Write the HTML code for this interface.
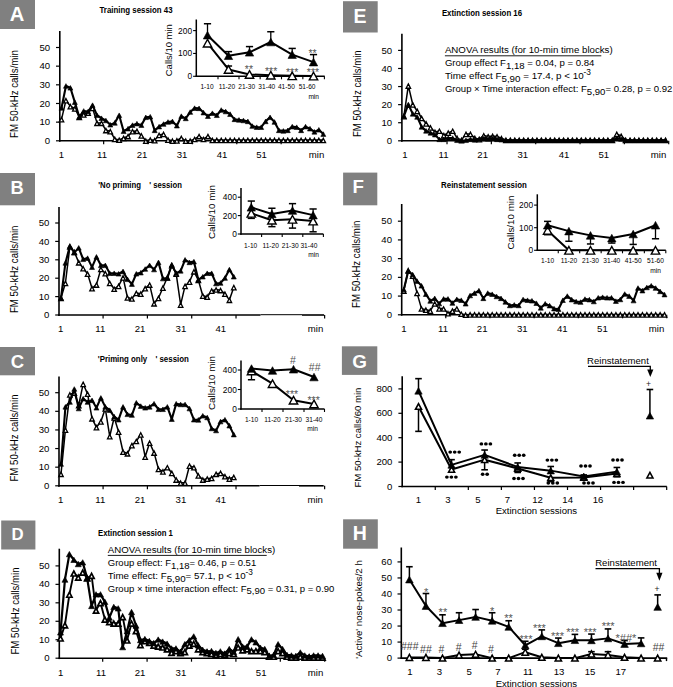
<!DOCTYPE html>
<html><head><meta charset="utf-8"><style>
html,body{margin:0;padding:0;background:#fff;}
body{width:673px;height:687px;overflow:hidden;font-family:"Liberation Sans", sans-serif;}
svg{display:block;}
</style></head><body>
<svg width="673" height="687" viewBox="0 0 673 687" font-family='"Liberation Sans", sans-serif'>
<rect width="673" height="687" fill="#fff"/>
<rect x="0" y="0" width="35" height="29" fill="#808080"/>
<text x="17" y="20.8" font-size="20.2" text-anchor="middle" font-weight="bold" fill="#fff">A</text>
<rect x="0" y="173" width="35" height="32.3" fill="#808080"/>
<text x="17.2" y="193.9" font-size="18.3" text-anchor="middle" font-weight="bold" fill="#fff">B</text>
<rect x="0" y="347" width="35" height="28.3" fill="#808080"/>
<text x="17.4" y="367.7" font-size="18.5" text-anchor="middle" font-weight="bold" fill="#fff">C</text>
<rect x="1.2" y="520.5" width="34.2" height="29" fill="#808080"/>
<text x="17.5" y="540.1" font-size="16.8" text-anchor="middle" font-weight="bold" fill="#fff">D</text>
<rect x="343" y="1.2" width="34.7" height="31.3" fill="#808080"/>
<text x="360.1" y="23" font-size="19.5" text-anchor="middle" font-weight="bold" fill="#fff">E</text>
<rect x="343.1" y="172.6" width="34.2" height="32.7" fill="#808080"/>
<text x="358.2" y="192.7" font-size="18.7" text-anchor="middle" font-weight="bold" fill="#fff">F</text>
<rect x="341.9" y="346.3" width="35.4" height="28.6" fill="#808080"/>
<text x="359.7" y="367.7" font-size="18.9" text-anchor="middle" font-weight="bold" fill="#fff">G</text>
<rect x="343.1" y="519.3" width="34.7" height="29.4" fill="#808080"/>
<text x="359.8" y="540.1" font-size="19.5" text-anchor="middle" font-weight="bold" fill="#fff">H</text>
<text x="99.5" y="13.1" font-size="9" font-weight="bold" textLength="73" lengthAdjust="spacingAndGlyphs">Training session 43</text>
<text x="98.2" y="188.4" font-size="9" font-weight="bold" textLength="42.8" lengthAdjust="spacingAndGlyphs">'No priming</text>
<text x="149.2" y="188.4" font-size="9" font-weight="bold" textLength="32.7" lengthAdjust="spacingAndGlyphs">' session</text>
<text x="97.8" y="362.3" font-size="9" font-weight="bold" textLength="49.4" lengthAdjust="spacingAndGlyphs">'Priming only</text>
<text x="155.4" y="362.3" font-size="9" font-weight="bold" textLength="33.5" lengthAdjust="spacingAndGlyphs">' session</text>
<text x="98" y="536" font-size="8.8" font-weight="bold" textLength="74.9" lengthAdjust="spacingAndGlyphs">Extinction session 1</text>
<text x="441.9" y="16" font-size="8.8" font-weight="bold" textLength="80.2" lengthAdjust="spacingAndGlyphs">Extinction session 16</text>
<text x="441.1" y="188.1" font-size="8.8" font-weight="bold" textLength="85.7" lengthAdjust="spacingAndGlyphs">Reinstatement session</text>
<line x1="59.8" y1="31" x2="59.8" y2="141.7" stroke="#000" stroke-width="1.6"/>
<line x1="59" y1="140.8" x2="325" y2="140.8" stroke="#000" stroke-width="1.6"/>
<line x1="56" y1="140.8" x2="59.8" y2="140.8" stroke="#000" stroke-width="1.2"/>
<text x="50.1" y="143.9" font-size="9.6" text-anchor="end">0</text>
<line x1="56" y1="122.14" x2="59.8" y2="122.14" stroke="#000" stroke-width="1.2"/>
<text x="50.1" y="125.24" font-size="9.6" text-anchor="end">10</text>
<line x1="56" y1="103.48" x2="59.8" y2="103.48" stroke="#000" stroke-width="1.2"/>
<text x="50.1" y="106.58" font-size="9.6" text-anchor="end">20</text>
<line x1="56" y1="84.82" x2="59.8" y2="84.82" stroke="#000" stroke-width="1.2"/>
<text x="50.1" y="87.92" font-size="9.6" text-anchor="end">30</text>
<line x1="56" y1="66.16" x2="59.8" y2="66.16" stroke="#000" stroke-width="1.2"/>
<text x="50.1" y="69.26" font-size="9.6" text-anchor="end">40</text>
<line x1="56" y1="47.5" x2="59.8" y2="47.5" stroke="#000" stroke-width="1.2"/>
<text x="50.1" y="50.6" font-size="9.6" text-anchor="end">50</text>
<line x1="103.65" y1="140.8" x2="103.65" y2="144.3" stroke="#000" stroke-width="1.2"/>
<line x1="148.03" y1="140.8" x2="148.03" y2="144.3" stroke="#000" stroke-width="1.2"/>
<line x1="192.4" y1="140.8" x2="192.4" y2="144.3" stroke="#000" stroke-width="1.2"/>
<line x1="236.77" y1="140.8" x2="236.77" y2="144.3" stroke="#000" stroke-width="1.2"/>
<line x1="281.15" y1="140.8" x2="281.15" y2="144.3" stroke="#000" stroke-width="1.2"/>
<text x="61.5" y="158" font-size="9.6" text-anchor="middle">1</text>
<text x="102" y="158" font-size="9.6" text-anchor="middle">11</text>
<text x="142" y="158" font-size="9.6" text-anchor="middle">21</text>
<text x="182" y="158" font-size="9.6" text-anchor="middle">31</text>
<text x="222" y="158" font-size="9.6" text-anchor="middle">41</text>
<text x="261.6" y="158" font-size="9.6" text-anchor="middle">51</text>
<text x="316.5" y="158" font-size="9.6" text-anchor="middle">min</text>
<text transform="translate(14.5,94) rotate(-90)" x="0" y="0" font-size="10.4" text-anchor="middle" dominant-baseline="central" textLength="88" lengthAdjust="spacingAndGlyphs">FM 50-kHz calls/min</text>
<polyline points="61.5,119.34 65.94,100.31 70.37,106.28 74.81,108.52 79.25,116.92 83.69,114.49 88.12,112.81 92.56,107.96 97,122.89 101.44,122.89 105.87,130.16 110.31,131.28 114.75,138.93 119.18,139.87 123.62,138 128.06,136.14 132.5,131.28 136.93,130.91 141.37,135.58 145.81,140.8 150.25,139.68 154.68,140.24 159.12,135.02 163.56,134.08 167.99,139.68 172.43,140.8 176.87,140.43 181.31,138 185.74,140.8 190.18,140.8 194.62,139.12 199.06,136.14 203.49,139.12 207.93,136.14 212.37,140.05 216.81,140.05 221.24,140.05 225.68,140.05 230.12,140.05 234.55,140.05 238.99,140.05 243.43,140.05 247.87,140.05 252.3,140.05 256.74,140.05 261.18,140.05 265.62,140.05 270.05,140.05 274.49,140.05 278.93,140.05 283.36,140.05 287.8,140.05 292.24,140.05 296.68,140.05 301.11,140.05 305.55,140.05 309.99,140.05 314.43,140.05 318.86,140.05 323.3,140.05" fill="none" stroke="#000" stroke-width="1.5" stroke-linejoin="round"/>
<path d="M61.5,117.54L63.75,121.94L59.25,121.94ZM65.94,98.51L68.19,102.91L63.69,102.91ZM70.37,104.48L72.62,108.88L68.12,108.88ZM74.81,106.72L77.06,111.12L72.56,111.12ZM79.25,115.12L81.5,119.52L77,119.52ZM83.69,112.69L85.94,117.09L81.44,117.09ZM88.12,111.01L90.37,115.41L85.87,115.41ZM92.56,106.16L94.81,110.56L90.31,110.56ZM97,121.09L99.25,125.49L94.75,125.49ZM101.44,121.09L103.69,125.49L99.19,125.49ZM105.87,128.36L108.12,132.76L103.62,132.76ZM110.31,129.48L112.56,133.88L108.06,133.88ZM114.75,137.13L117,141.53L112.5,141.53ZM119.18,138.07L121.43,142.47L116.93,142.47ZM123.62,136.2L125.87,140.6L121.37,140.6ZM128.06,134.34L130.31,138.74L125.81,138.74ZM132.5,129.48L134.75,133.88L130.25,133.88ZM136.93,129.11L139.18,133.51L134.68,133.51ZM141.37,133.78L143.62,138.18L139.12,138.18ZM145.81,139L148.06,143.4L143.56,143.4ZM150.25,137.88L152.5,142.28L148,142.28ZM154.68,138.44L156.93,142.84L152.43,142.84ZM159.12,133.22L161.37,137.62L156.87,137.62ZM163.56,132.28L165.81,136.68L161.31,136.68ZM167.99,137.88L170.24,142.28L165.74,142.28ZM172.43,139L174.68,143.4L170.18,143.4ZM176.87,138.63L179.12,143.03L174.62,143.03ZM181.31,136.2L183.56,140.6L179.06,140.6ZM185.74,139L187.99,143.4L183.49,143.4ZM190.18,139L192.43,143.4L187.93,143.4ZM194.62,137.32L196.87,141.72L192.37,141.72ZM199.06,134.34L201.31,138.74L196.81,138.74ZM203.49,137.32L205.74,141.72L201.24,141.72ZM207.93,134.34L210.18,138.74L205.68,138.74ZM212.37,138.25L214.62,142.65L210.12,142.65ZM216.81,138.25L219.06,142.65L214.56,142.65ZM221.24,138.25L223.49,142.65L218.99,142.65ZM225.68,138.25L227.93,142.65L223.43,142.65ZM230.12,138.25L232.37,142.65L227.87,142.65ZM234.55,138.25L236.8,142.65L232.3,142.65ZM238.99,138.25L241.24,142.65L236.74,142.65ZM243.43,138.25L245.68,142.65L241.18,142.65ZM247.87,138.25L250.12,142.65L245.62,142.65ZM252.3,138.25L254.55,142.65L250.05,142.65ZM256.74,138.25L258.99,142.65L254.49,142.65ZM261.18,138.25L263.43,142.65L258.93,142.65ZM265.62,138.25L267.87,142.65L263.37,142.65ZM270.05,138.25L272.3,142.65L267.8,142.65ZM274.49,138.25L276.74,142.65L272.24,142.65ZM278.93,138.25L281.18,142.65L276.68,142.65ZM283.36,138.25L285.61,142.65L281.11,142.65ZM287.8,138.25L290.05,142.65L285.55,142.65ZM292.24,138.25L294.49,142.65L289.99,142.65ZM296.68,138.25L298.93,142.65L294.43,142.65ZM301.11,138.25L303.36,142.65L298.86,142.65ZM305.55,138.25L307.8,142.65L303.3,142.65ZM309.99,138.25L312.24,142.65L307.74,142.65ZM314.43,138.25L316.68,142.65L312.18,142.65ZM318.86,138.25L321.11,142.65L316.61,142.65ZM323.3,138.25L325.55,142.65L321.05,142.65Z" fill="#fff" stroke="#000" stroke-width="1.3" stroke-linejoin="miter"/>
<polyline points="61.5,107.96 65.94,85.94 70.37,87.81 74.81,102.17 79.25,116.92 83.69,110.94 88.12,111.5 92.56,105.16 97,115.24 101.44,118.22 105.87,120.46 110.31,124.75 114.75,122.89 119.18,115.24 123.62,131.28 128.06,128.67 132.5,125.13 136.93,123.63 141.37,125.13 145.81,117.29 150.25,116.73 154.68,130.35 159.12,126.62 163.56,124.01 167.99,121.95 172.43,121.39 176.87,125.69 181.31,116.17 185.74,118.41 190.18,112.06 194.62,108.15 199.06,108.33 203.49,112.62 207.93,116.17 212.37,113.18 216.81,115.24 221.24,110.01 225.68,111.5 230.12,114.12 234.55,119.34 238.99,119.9 243.43,120.46 247.87,121.39 252.3,126.06 256.74,127.18 261.18,127.18 265.62,121.39 270.05,117.29 274.49,121.95 278.93,130.35 283.36,130.91 287.8,130.35 292.24,126.62 296.68,127.18 301.11,130.35 305.55,126.62 309.99,128.67 314.43,131.84 318.86,129.79 323.3,134.08" fill="none" stroke="#000" stroke-width="2.1" stroke-linejoin="round"/>
<path d="M61.5,105.66L64,110.26L59,110.26ZM65.94,83.64L68.44,88.24L63.44,88.24ZM70.37,85.51L72.87,90.11L67.87,90.11ZM74.81,99.87L77.31,104.47L72.31,104.47ZM79.25,114.62L81.75,119.22L76.75,119.22ZM83.69,108.64L86.19,113.24L81.19,113.24ZM88.12,109.2L90.62,113.8L85.62,113.8ZM92.56,102.86L95.06,107.46L90.06,107.46ZM97,112.94L99.5,117.54L94.5,117.54ZM101.44,115.92L103.94,120.52L98.94,120.52ZM105.87,118.16L108.37,122.76L103.37,122.76ZM110.31,122.45L112.81,127.05L107.81,127.05ZM114.75,120.59L117.25,125.19L112.25,125.19ZM119.18,112.94L121.68,117.54L116.68,117.54ZM123.62,128.98L126.12,133.58L121.12,133.58ZM128.06,126.37L130.56,130.97L125.56,130.97ZM132.5,122.83L135,127.43L130,127.43ZM136.93,121.33L139.43,125.93L134.43,125.93ZM141.37,122.83L143.87,127.43L138.87,127.43ZM145.81,114.99L148.31,119.59L143.31,119.59ZM150.25,114.43L152.75,119.03L147.75,119.03ZM154.68,128.05L157.18,132.65L152.18,132.65ZM159.12,124.32L161.62,128.92L156.62,128.92ZM163.56,121.71L166.06,126.31L161.06,126.31ZM167.99,119.65L170.49,124.25L165.49,124.25ZM172.43,119.09L174.93,123.69L169.93,123.69ZM176.87,123.39L179.37,127.99L174.37,127.99ZM181.31,113.87L183.81,118.47L178.81,118.47ZM185.74,116.11L188.24,120.71L183.24,120.71ZM190.18,109.76L192.68,114.36L187.68,114.36ZM194.62,105.85L197.12,110.45L192.12,110.45ZM199.06,106.03L201.56,110.63L196.56,110.63ZM203.49,110.32L205.99,114.92L200.99,114.92ZM207.93,113.87L210.43,118.47L205.43,118.47ZM212.37,110.88L214.87,115.48L209.87,115.48ZM216.81,112.94L219.31,117.54L214.31,117.54ZM221.24,107.71L223.74,112.31L218.74,112.31ZM225.68,109.2L228.18,113.8L223.18,113.8ZM230.12,111.82L232.62,116.42L227.62,116.42ZM234.55,117.04L237.05,121.64L232.05,121.64ZM238.99,117.6L241.49,122.2L236.49,122.2ZM243.43,118.16L245.93,122.76L240.93,122.76ZM247.87,119.09L250.37,123.69L245.37,123.69ZM252.3,123.76L254.8,128.36L249.8,128.36ZM256.74,124.88L259.24,129.48L254.24,129.48ZM261.18,124.88L263.68,129.48L258.68,129.48ZM265.62,119.09L268.12,123.69L263.12,123.69ZM270.05,114.99L272.55,119.59L267.55,119.59ZM274.49,119.65L276.99,124.25L271.99,124.25ZM278.93,128.05L281.43,132.65L276.43,132.65ZM283.36,128.61L285.86,133.21L280.86,133.21ZM287.8,128.05L290.3,132.65L285.3,132.65ZM292.24,124.32L294.74,128.92L289.74,128.92ZM296.68,124.88L299.18,129.48L294.18,129.48ZM301.11,128.05L303.61,132.65L298.61,132.65ZM305.55,124.32L308.05,128.92L303.05,128.92ZM309.99,126.37L312.49,130.97L307.49,130.97ZM314.43,129.54L316.93,134.14L311.93,134.14ZM318.86,127.49L321.36,132.09L316.36,132.09ZM323.3,131.78L325.8,136.38L320.8,136.38Z" fill="#000" stroke="#000" stroke-width="0.6" stroke-linejoin="miter"/>
<line x1="59" y1="207" x2="59" y2="315.9" stroke="#000" stroke-width="1.6"/>
<line x1="58.2" y1="315" x2="260.5" y2="315" stroke="#000" stroke-width="1.6"/>
<line x1="260.5" y1="314.7" x2="302" y2="314.7" stroke="#000" stroke-width="1"/>
<line x1="302" y1="315" x2="324.1" y2="315" stroke="#000" stroke-width="1.6"/>
<line x1="55.2" y1="315" x2="59" y2="315" stroke="#000" stroke-width="1.2"/>
<text x="49.3" y="318.1" font-size="9.6" text-anchor="end">0</text>
<line x1="55.2" y1="296.6" x2="59" y2="296.6" stroke="#000" stroke-width="1.2"/>
<text x="49.3" y="299.7" font-size="9.6" text-anchor="end">10</text>
<line x1="55.2" y1="278.2" x2="59" y2="278.2" stroke="#000" stroke-width="1.2"/>
<text x="49.3" y="281.3" font-size="9.6" text-anchor="end">20</text>
<line x1="55.2" y1="259.8" x2="59" y2="259.8" stroke="#000" stroke-width="1.2"/>
<text x="49.3" y="262.9" font-size="9.6" text-anchor="end">30</text>
<line x1="55.2" y1="241.4" x2="59" y2="241.4" stroke="#000" stroke-width="1.2"/>
<text x="49.3" y="244.5" font-size="9.6" text-anchor="end">40</text>
<line x1="55.2" y1="223" x2="59" y2="223" stroke="#000" stroke-width="1.2"/>
<text x="49.3" y="226.1" font-size="9.6" text-anchor="end">50</text>
<line x1="103.09" y1="315" x2="103.09" y2="318.5" stroke="#000" stroke-width="1.2"/>
<line x1="147.4" y1="315" x2="147.4" y2="318.5" stroke="#000" stroke-width="1.2"/>
<line x1="191.71" y1="315" x2="191.71" y2="318.5" stroke="#000" stroke-width="1.2"/>
<line x1="236.02" y1="315" x2="236.02" y2="318.5" stroke="#000" stroke-width="1.2"/>
<line x1="324.63" y1="315" x2="324.63" y2="318.5" stroke="#000" stroke-width="1.2"/>
<text x="60.6" y="331.5" font-size="9.6" text-anchor="middle">1</text>
<text x="100.3" y="331.5" font-size="9.6" text-anchor="middle">11</text>
<text x="140.1" y="331.5" font-size="9.6" text-anchor="middle">21</text>
<text x="180.9" y="331.5" font-size="9.6" text-anchor="middle">31</text>
<text x="220.8" y="331.5" font-size="9.6" text-anchor="middle">41</text>
<text x="315.6" y="331.5" font-size="9.6" text-anchor="middle">min</text>
<text transform="translate(14.9,269.3) rotate(-90)" x="0" y="0" font-size="10.4" text-anchor="middle" dominant-baseline="central" textLength="87.5" lengthAdjust="spacingAndGlyphs">FM 50-kHz calls/min</text>
<polyline points="61,298.07 65.43,282.98 69.86,246.55 74.29,251.89 78.72,262.38 83.15,268.26 87.58,273.78 92.02,288.32 96.45,284.64 100.88,269 105.31,273.23 109.74,282.98 114.17,288.87 118.6,285.93 123.03,277.46 127.46,297.52 131.89,298.62 136.32,293.1 140.75,293.84 145.18,288.32 149.62,284.64 154.05,303.41 158.48,298.07 162.91,287.77 167.34,277.46 171.77,265.32 176.2,273.78 180.63,304.7 185.06,285.93 189.49,281.7 193.92,271.39 198.35,280.04 202.78,295.68 207.22,296.78 211.65,290.71 216.08,289.61 220.51,290.16 224.94,293.84 229.37,299.91 233.8,287.22" fill="none" stroke="#000" stroke-width="1.5" stroke-linejoin="round"/>
<path d="M61,296.27L63.25,300.67L58.75,300.67ZM65.43,281.18L67.68,285.58L63.18,285.58ZM69.86,244.75L72.11,249.15L67.61,249.15ZM74.29,250.09L76.54,254.49L72.04,254.49ZM78.72,260.58L80.97,264.98L76.47,264.98ZM83.15,266.46L85.4,270.86L80.9,270.86ZM87.58,271.98L89.83,276.38L85.33,276.38ZM92.02,286.52L94.27,290.92L89.77,290.92ZM96.45,282.84L98.7,287.24L94.2,287.24ZM100.88,267.2L103.13,271.6L98.63,271.6ZM105.31,271.43L107.56,275.83L103.06,275.83ZM109.74,281.18L111.99,285.58L107.49,285.58ZM114.17,287.07L116.42,291.47L111.92,291.47ZM118.6,284.13L120.85,288.53L116.35,288.53ZM123.03,275.66L125.28,280.06L120.78,280.06ZM127.46,295.72L129.71,300.12L125.21,300.12ZM131.89,296.82L134.14,301.22L129.64,301.22ZM136.32,291.3L138.57,295.7L134.07,295.7ZM140.75,292.04L143,296.44L138.5,296.44ZM145.18,286.52L147.43,290.92L142.93,290.92ZM149.62,282.84L151.87,287.24L147.37,287.24ZM154.05,301.61L156.3,306.01L151.8,306.01ZM158.48,296.27L160.73,300.67L156.23,300.67ZM162.91,285.97L165.16,290.37L160.66,290.37ZM167.34,275.66L169.59,280.06L165.09,280.06ZM171.77,263.52L174.02,267.92L169.52,267.92ZM176.2,271.98L178.45,276.38L173.95,276.38ZM180.63,302.9L182.88,307.3L178.38,307.3ZM185.06,284.13L187.31,288.53L182.81,288.53ZM189.49,279.9L191.74,284.3L187.24,284.3ZM193.92,269.59L196.17,273.99L191.67,273.99ZM198.35,278.24L200.6,282.64L196.1,282.64ZM202.78,293.88L205.03,298.28L200.53,298.28ZM207.22,294.98L209.47,299.38L204.97,299.38ZM211.65,288.91L213.9,293.31L209.4,293.31ZM216.08,287.81L218.33,292.21L213.83,292.21ZM220.51,288.36L222.76,292.76L218.26,292.76ZM224.94,292.04L227.19,296.44L222.69,296.44ZM229.37,298.11L231.62,302.51L227.12,302.51ZM233.8,285.42L236.05,289.82L231.55,289.82Z" fill="#fff" stroke="#000" stroke-width="1.3" stroke-linejoin="miter"/>
<polyline points="61,298.07 65.43,262.93 69.86,246 74.29,252.62 78.72,247.84 83.15,259.25 87.58,258.14 92.02,267.16 96.45,256.86 100.88,265.32 105.31,265.32 109.74,273.23 114.17,273.23 118.6,273.78 123.03,271.39 127.46,279.3 131.89,284.09 136.32,273.78 140.75,272.68 145.18,269 149.62,265.32 154.05,269.55 158.48,262.38 162.91,278.57 167.34,278.02 171.77,264.77 176.2,273.23 180.63,270.84 185.06,259.8 189.49,262.38 193.92,261.64 198.35,279.86 202.78,276.73 207.22,273.23 211.65,273.23 216.08,283.54 220.51,282.98 224.94,278.02 229.37,269.55 233.8,276.73" fill="none" stroke="#000" stroke-width="2.1" stroke-linejoin="round"/>
<path d="M61,295.77L63.5,300.37L58.5,300.37ZM65.43,260.63L67.93,265.23L62.93,265.23ZM69.86,243.7L72.36,248.3L67.36,248.3ZM74.29,250.32L76.79,254.92L71.79,254.92ZM78.72,245.54L81.22,250.14L76.22,250.14ZM83.15,256.95L85.65,261.55L80.65,261.55ZM87.58,255.84L90.08,260.44L85.08,260.44ZM92.02,264.86L94.52,269.46L89.52,269.46ZM96.45,254.56L98.95,259.16L93.95,259.16ZM100.88,263.02L103.38,267.62L98.38,267.62ZM105.31,263.02L107.81,267.62L102.81,267.62ZM109.74,270.93L112.24,275.53L107.24,275.53ZM114.17,270.93L116.67,275.53L111.67,275.53ZM118.6,271.48L121.1,276.08L116.1,276.08ZM123.03,269.09L125.53,273.69L120.53,273.69ZM127.46,277L129.96,281.6L124.96,281.6ZM131.89,281.79L134.39,286.39L129.39,286.39ZM136.32,271.48L138.82,276.08L133.82,276.08ZM140.75,270.38L143.25,274.98L138.25,274.98ZM145.18,266.7L147.68,271.3L142.68,271.3ZM149.62,263.02L152.12,267.62L147.12,267.62ZM154.05,267.25L156.55,271.85L151.55,271.85ZM158.48,260.08L160.98,264.68L155.98,264.68ZM162.91,276.27L165.41,280.87L160.41,280.87ZM167.34,275.72L169.84,280.32L164.84,280.32ZM171.77,262.47L174.27,267.07L169.27,267.07ZM176.2,270.93L178.7,275.53L173.7,275.53ZM180.63,268.54L183.13,273.14L178.13,273.14ZM185.06,257.5L187.56,262.1L182.56,262.1ZM189.49,260.08L191.99,264.68L186.99,264.68ZM193.92,259.34L196.42,263.94L191.42,263.94ZM198.35,277.56L200.85,282.16L195.85,282.16ZM202.78,274.43L205.28,279.03L200.28,279.03ZM207.22,270.93L209.72,275.53L204.72,275.53ZM211.65,270.93L214.15,275.53L209.15,275.53ZM216.08,281.24L218.58,285.84L213.58,285.84ZM220.51,280.68L223.01,285.28L218.01,285.28ZM224.94,275.72L227.44,280.32L222.44,280.32ZM229.37,267.25L231.87,271.85L226.87,271.85ZM233.8,274.43L236.3,279.03L231.3,279.03Z" fill="#000" stroke="#000" stroke-width="0.6" stroke-linejoin="miter"/>
<line x1="59" y1="376.5" x2="59" y2="486.7" stroke="#000" stroke-width="1.6"/>
<line x1="58.2" y1="485.8" x2="259.6" y2="485.8" stroke="#000" stroke-width="1.6"/>
<line x1="259.6" y1="485.5" x2="299" y2="485.5" stroke="#000" stroke-width="1"/>
<line x1="299" y1="485.8" x2="323.7" y2="485.8" stroke="#000" stroke-width="1.6"/>
<line x1="55.2" y1="485.8" x2="59" y2="485.8" stroke="#000" stroke-width="1.2"/>
<text x="49.3" y="488.9" font-size="9.6" text-anchor="end">0</text>
<line x1="55.2" y1="467.18" x2="59" y2="467.18" stroke="#000" stroke-width="1.2"/>
<text x="49.3" y="470.28" font-size="9.6" text-anchor="end">10</text>
<line x1="55.2" y1="448.56" x2="59" y2="448.56" stroke="#000" stroke-width="1.2"/>
<text x="49.3" y="451.66" font-size="9.6" text-anchor="end">20</text>
<line x1="55.2" y1="429.94" x2="59" y2="429.94" stroke="#000" stroke-width="1.2"/>
<text x="49.3" y="433.04" font-size="9.6" text-anchor="end">30</text>
<line x1="55.2" y1="411.32" x2="59" y2="411.32" stroke="#000" stroke-width="1.2"/>
<text x="49.3" y="414.42" font-size="9.6" text-anchor="end">40</text>
<line x1="55.2" y1="392.7" x2="59" y2="392.7" stroke="#000" stroke-width="1.2"/>
<text x="49.3" y="395.8" font-size="9.6" text-anchor="end">50</text>
<line x1="103.09" y1="485.8" x2="103.09" y2="489.3" stroke="#000" stroke-width="1.2"/>
<line x1="147.4" y1="485.8" x2="147.4" y2="489.3" stroke="#000" stroke-width="1.2"/>
<line x1="191.71" y1="485.8" x2="191.71" y2="489.3" stroke="#000" stroke-width="1.2"/>
<line x1="236.02" y1="485.8" x2="236.02" y2="489.3" stroke="#000" stroke-width="1.2"/>
<line x1="324.63" y1="485.8" x2="324.63" y2="489.3" stroke="#000" stroke-width="1.2"/>
<text x="60.6" y="503" font-size="9.6" text-anchor="middle">1</text>
<text x="100.3" y="503" font-size="9.6" text-anchor="middle">11</text>
<text x="140.1" y="503" font-size="9.6" text-anchor="middle">21</text>
<text x="180.9" y="503" font-size="9.6" text-anchor="middle">31</text>
<text x="220.8" y="503" font-size="9.6" text-anchor="middle">41</text>
<text x="315.2" y="503" font-size="9.6" text-anchor="middle">min</text>
<text transform="translate(14.9,438) rotate(-90)" x="0" y="0" font-size="10.4" text-anchor="middle" dominant-baseline="central" textLength="87" lengthAdjust="spacingAndGlyphs">FM 50-kHz calls/min</text>
<polyline points="61,473.88 65.43,429.75 69.86,394.56 74.29,392.7 78.72,405.18 83.15,383.95 87.58,393.82 92.02,418.4 96.45,427.33 100.88,421.56 105.31,408.53 109.74,436.27 114.17,417.46 118.6,431.8 123.03,451.73 127.46,453.4 131.89,445.21 136.32,441.11 140.75,434.6 145.18,456.75 149.62,442.79 154.05,452.66 158.48,469.04 162.91,471.46 167.34,467.37 171.77,472.95 176.2,479.66 180.63,482.82 185.06,482.82 189.49,465.69 193.92,467.37 198.35,475.56 202.78,479.66 207.22,478.72 211.65,477.98 216.08,473.88 220.51,472.95 224.94,476.3 229.37,478.72 233.8,477.05" fill="none" stroke="#000" stroke-width="1.5" stroke-linejoin="round"/>
<path d="M61,472.08L63.25,476.48L58.75,476.48ZM65.43,427.95L67.68,432.35L63.18,432.35ZM69.86,392.76L72.11,397.16L67.61,397.16ZM74.29,390.9L76.54,395.3L72.04,395.3ZM78.72,403.38L80.97,407.78L76.47,407.78ZM83.15,382.15L85.4,386.55L80.9,386.55ZM87.58,392.02L89.83,396.42L85.33,396.42ZM92.02,416.6L94.27,421L89.77,421ZM96.45,425.53L98.7,429.93L94.2,429.93ZM100.88,419.76L103.13,424.16L98.63,424.16ZM105.31,406.73L107.56,411.13L103.06,411.13ZM109.74,434.47L111.99,438.87L107.49,438.87ZM114.17,415.66L116.42,420.06L111.92,420.06ZM118.6,430L120.85,434.4L116.35,434.4ZM123.03,449.93L125.28,454.33L120.78,454.33ZM127.46,451.6L129.71,456L125.21,456ZM131.89,443.41L134.14,447.81L129.64,447.81ZM136.32,439.31L138.57,443.71L134.07,443.71ZM140.75,432.8L143,437.19L138.5,437.19ZM145.18,454.95L147.43,459.35L142.93,459.35ZM149.62,440.99L151.87,445.39L147.37,445.39ZM154.05,450.86L156.3,455.26L151.8,455.26ZM158.48,467.24L160.73,471.64L156.23,471.64ZM162.91,469.66L165.16,474.06L160.66,474.06ZM167.34,465.57L169.59,469.97L165.09,469.97ZM171.77,471.15L174.02,475.55L169.52,475.55ZM176.2,477.86L178.45,482.26L173.95,482.26ZM180.63,481.02L182.88,485.42L178.38,485.42ZM185.06,481.02L187.31,485.42L182.81,485.42ZM189.49,463.89L191.74,468.29L187.24,468.29ZM193.92,465.57L196.17,469.97L191.67,469.97ZM198.35,473.76L200.6,478.16L196.1,478.16ZM202.78,477.86L205.03,482.26L200.53,482.26ZM207.22,476.92L209.47,481.32L204.97,481.32ZM211.65,476.18L213.9,480.58L209.4,480.58ZM216.08,472.08L218.33,476.48L213.83,476.48ZM220.51,471.15L222.76,475.55L218.26,475.55ZM224.94,474.5L227.19,478.9L222.69,478.9ZM229.37,476.92L231.62,481.32L227.12,481.32ZM233.8,475.25L236.05,479.65L231.55,479.65Z" fill="#fff" stroke="#000" stroke-width="1.3" stroke-linejoin="miter"/>
<polyline points="61,464.01 65.43,406.85 69.86,402.01 74.29,388.98 78.72,408.53 83.15,398.66 87.58,402.01 92.02,400.33 96.45,407.78 100.88,397.91 105.31,406.85 109.74,410.2 114.17,416.72 118.6,419.7 123.03,406.85 127.46,414.3 131.89,415.04 136.32,402.75 140.75,406.11 145.18,407.78 149.62,406.85 154.05,403.69 158.48,409.27 162.91,409.27 167.34,406.85 171.77,419.14 176.2,403.69 180.63,404.43 185.06,404.43 189.49,408.53 193.92,419.7 198.35,419.89 202.78,415.79 207.22,417.46 211.65,428.45 216.08,430.5 220.51,421.56 224.94,419.7 229.37,425.66 233.8,434.6" fill="none" stroke="#000" stroke-width="2.1" stroke-linejoin="round"/>
<path d="M61,461.71L63.5,466.31L58.5,466.31ZM65.43,404.55L67.93,409.15L62.93,409.15ZM69.86,399.71L72.36,404.31L67.36,404.31ZM74.29,386.68L76.79,391.28L71.79,391.28ZM78.72,406.23L81.22,410.83L76.22,410.83ZM83.15,396.36L85.65,400.96L80.65,400.96ZM87.58,399.71L90.08,404.31L85.08,404.31ZM92.02,398.03L94.52,402.63L89.52,402.63ZM96.45,405.48L98.95,410.08L93.95,410.08ZM100.88,395.61L103.38,400.21L98.38,400.21ZM105.31,404.55L107.81,409.15L102.81,409.15ZM109.74,407.9L112.24,412.5L107.24,412.5ZM114.17,414.42L116.67,419.02L111.67,419.02ZM118.6,417.4L121.1,422L116.1,422ZM123.03,404.55L125.53,409.15L120.53,409.15ZM127.46,412L129.96,416.6L124.96,416.6ZM131.89,412.74L134.39,417.34L129.39,417.34ZM136.32,400.45L138.82,405.05L133.82,405.05ZM140.75,403.81L143.25,408.41L138.25,408.41ZM145.18,405.48L147.68,410.08L142.68,410.08ZM149.62,404.55L152.12,409.15L147.12,409.15ZM154.05,401.39L156.55,405.99L151.55,405.99ZM158.48,406.97L160.98,411.57L155.98,411.57ZM162.91,406.97L165.41,411.57L160.41,411.57ZM167.34,404.55L169.84,409.15L164.84,409.15ZM171.77,416.84L174.27,421.44L169.27,421.44ZM176.2,401.39L178.7,405.99L173.7,405.99ZM180.63,402.13L183.13,406.73L178.13,406.73ZM185.06,402.13L187.56,406.73L182.56,406.73ZM189.49,406.23L191.99,410.83L186.99,410.83ZM193.92,417.4L196.42,422L191.42,422ZM198.35,417.59L200.85,422.19L195.85,422.19ZM202.78,413.49L205.28,418.09L200.28,418.09ZM207.22,415.16L209.72,419.76L204.72,419.76ZM211.65,426.15L214.15,430.75L209.15,430.75ZM216.08,428.2L218.58,432.8L213.58,432.8ZM220.51,419.26L223.01,423.86L218.01,423.86ZM224.94,417.4L227.44,422L222.44,422ZM229.37,423.36L231.87,427.96L226.87,427.96ZM233.8,432.3L236.3,436.9L231.3,436.9Z" fill="#000" stroke="#000" stroke-width="0.6" stroke-linejoin="miter"/>
<line x1="59.3" y1="548.7" x2="59.3" y2="659.1" stroke="#000" stroke-width="1.6"/>
<line x1="58.5" y1="658.2" x2="324" y2="658.2" stroke="#000" stroke-width="1.6"/>
<line x1="55.5" y1="658.2" x2="59.3" y2="658.2" stroke="#000" stroke-width="1.2"/>
<text x="49.6" y="661.3" font-size="9.6" text-anchor="end">0</text>
<line x1="55.5" y1="639.74" x2="59.3" y2="639.74" stroke="#000" stroke-width="1.2"/>
<text x="49.6" y="642.84" font-size="9.6" text-anchor="end">10</text>
<line x1="55.5" y1="621.28" x2="59.3" y2="621.28" stroke="#000" stroke-width="1.2"/>
<text x="49.6" y="624.38" font-size="9.6" text-anchor="end">20</text>
<line x1="55.5" y1="602.82" x2="59.3" y2="602.82" stroke="#000" stroke-width="1.2"/>
<text x="49.6" y="605.92" font-size="9.6" text-anchor="end">30</text>
<line x1="55.5" y1="584.36" x2="59.3" y2="584.36" stroke="#000" stroke-width="1.2"/>
<text x="49.6" y="587.46" font-size="9.6" text-anchor="end">40</text>
<line x1="55.5" y1="565.9" x2="59.3" y2="565.9" stroke="#000" stroke-width="1.2"/>
<text x="49.6" y="569" font-size="9.6" text-anchor="end">50</text>
<line x1="102.69" y1="658.2" x2="102.69" y2="661.7" stroke="#000" stroke-width="1.2"/>
<line x1="147.09" y1="658.2" x2="147.09" y2="661.7" stroke="#000" stroke-width="1.2"/>
<line x1="191.5" y1="658.2" x2="191.5" y2="661.7" stroke="#000" stroke-width="1.2"/>
<line x1="235.91" y1="658.2" x2="235.91" y2="661.7" stroke="#000" stroke-width="1.2"/>
<line x1="280.31" y1="658.2" x2="280.31" y2="661.7" stroke="#000" stroke-width="1.2"/>
<line x1="324.72" y1="658.2" x2="324.72" y2="661.7" stroke="#000" stroke-width="1.2"/>
<text x="60.6" y="675.5" font-size="9.6" text-anchor="middle">1</text>
<text x="101" y="675.5" font-size="9.6" text-anchor="middle">11</text>
<text x="140.1" y="675.5" font-size="9.6" text-anchor="middle">21</text>
<text x="180.9" y="675.5" font-size="9.6" text-anchor="middle">31</text>
<text x="220.8" y="675.5" font-size="9.6" text-anchor="middle">41</text>
<text x="261.2" y="675.5" font-size="9.6" text-anchor="middle">51</text>
<text x="315.6" y="675.5" font-size="9.6" text-anchor="middle">min</text>
<text transform="translate(15.3,611) rotate(-90)" x="0" y="0" font-size="10.4" text-anchor="middle" dominant-baseline="central" textLength="87" lengthAdjust="spacingAndGlyphs">FM 50-kHz calls/min</text>
<polyline points="60.5,638.08 64.94,624.97 69.38,594.33 73.82,573.1 78.26,577.16 82.7,572.18 87.14,578.08 91.58,575.5 96.03,610.2 100.47,602.64 104.91,619.25 109.35,621.65 113.79,623.31 118.23,623.31 122.67,616.67 127.11,640.11 131.55,623.31 135.99,630.69 140.43,644.72 144.87,640.66 149.31,642.51 153.75,645.28 158.19,646.2 162.64,647.12 167.08,648.97 171.52,652.48 175.96,650.82 180.4,652.66 184.84,651.74 189.28,645.28 193.72,643.43 198.16,648.97 202.6,651.74 207.04,652.66 211.48,653.59 215.92,654.51 220.36,653.59 224.81,654.51 229.25,652.66 233.69,653.59 238.13,647.12 242.57,649.89 247.01,648.97 251.45,650.82 255.89,650.82 260.33,650.82 264.77,651.74 269.21,656.35 273.65,656.35 278.09,650.82 282.53,652.66 286.97,656.35 291.42,657.28 295.86,657.28 300.3,656.35 304.74,657.28 309.18,657.28 313.62,657.28 318.06,657.28 322.5,657.28" fill="none" stroke="#000" stroke-width="1.9" stroke-linejoin="round"/>
<path d="M60.5,635.98L63.1,640.98L57.9,640.98ZM64.94,622.87L67.54,627.87L62.34,627.87ZM69.38,592.23L71.98,597.23L66.78,597.23ZM73.82,571L76.42,576L71.22,576ZM78.26,575.06L80.86,580.06L75.66,580.06ZM82.7,570.08L85.3,575.08L80.1,575.08ZM87.14,575.98L89.74,580.98L84.54,580.98ZM91.58,573.4L94.18,578.4L88.98,578.4ZM96.03,608.1L98.63,613.1L93.43,613.1ZM100.47,600.54L103.07,605.54L97.87,605.54ZM104.91,617.15L107.51,622.15L102.31,622.15ZM109.35,619.55L111.95,624.55L106.75,624.55ZM113.79,621.21L116.39,626.21L111.19,626.21ZM118.23,621.21L120.83,626.21L115.63,626.21ZM122.67,614.57L125.27,619.57L120.07,619.57ZM127.11,638.01L129.71,643.01L124.51,643.01ZM131.55,621.21L134.15,626.21L128.95,626.21ZM135.99,628.59L138.59,633.59L133.39,633.59ZM140.43,642.62L143.03,647.62L137.83,647.62ZM144.87,638.56L147.47,643.56L142.27,643.56ZM149.31,640.41L151.91,645.41L146.71,645.41ZM153.75,643.18L156.35,648.18L151.15,648.18ZM158.19,644.1L160.79,649.1L155.59,649.1ZM162.64,645.02L165.24,650.02L160.04,650.02ZM167.08,646.87L169.68,651.87L164.48,651.87ZM171.52,650.38L174.12,655.38L168.92,655.38ZM175.96,648.72L178.56,653.72L173.36,653.72ZM180.4,650.56L183,655.56L177.8,655.56ZM184.84,649.64L187.44,654.64L182.24,654.64ZM189.28,643.18L191.88,648.18L186.68,648.18ZM193.72,641.33L196.32,646.33L191.12,646.33ZM198.16,646.87L200.76,651.87L195.56,651.87ZM202.6,649.64L205.2,654.64L200,654.64ZM207.04,650.56L209.64,655.56L204.44,655.56ZM211.48,651.49L214.08,656.49L208.88,656.49ZM215.92,652.41L218.52,657.41L213.32,657.41ZM220.36,651.49L222.96,656.49L217.76,656.49ZM224.81,652.41L227.41,657.41L222.21,657.41ZM229.25,650.56L231.85,655.56L226.65,655.56ZM233.69,651.49L236.29,656.49L231.09,656.49ZM238.13,645.02L240.73,650.02L235.53,650.02ZM242.57,647.79L245.17,652.79L239.97,652.79ZM247.01,646.87L249.61,651.87L244.41,651.87ZM251.45,648.72L254.05,653.72L248.85,653.72ZM255.89,648.72L258.49,653.72L253.29,653.72ZM260.33,648.72L262.93,653.72L257.73,653.72ZM264.77,649.64L267.37,654.64L262.17,654.64ZM269.21,654.25L271.81,659.25L266.61,659.25ZM273.65,654.25L276.25,659.25L271.05,659.25ZM278.09,648.72L280.69,653.72L275.49,653.72ZM282.53,650.56L285.13,655.56L279.93,655.56ZM286.97,654.25L289.57,659.25L284.37,659.25ZM291.42,655.18L294.02,660.18L288.82,660.18ZM295.86,655.18L298.46,660.18L293.26,660.18ZM300.3,654.25L302.9,659.25L297.7,659.25ZM304.74,655.18L307.34,660.18L302.14,660.18ZM309.18,655.18L311.78,660.18L306.58,660.18ZM313.62,655.18L316.22,660.18L311.02,660.18ZM318.06,655.18L320.66,660.18L315.46,660.18ZM322.5,655.18L325.1,660.18L319.9,660.18Z" fill="#fff" stroke="#000" stroke-width="1.7" stroke-linejoin="miter"/>
<polyline points="60.5,632.36 64.94,579.56 69.38,554.09 73.82,559.81 78.26,564.05 82.7,562.39 87.14,578.08 91.58,605.96 96.03,594.33 100.47,594.33 104.91,601.9 109.35,617.59 113.79,606.88 118.23,608.36 122.67,647.12 127.11,631.25 131.55,612.05 135.99,625.53 140.43,640.11 144.87,639 149.31,641.03 153.75,643.06 158.19,639.56 162.64,641.59 167.08,643.62 171.52,648.42 175.96,648.42 180.4,651.92 184.84,644.17 189.28,640.29 193.72,636.42 198.16,645.28 202.6,649.71 207.04,651.37 211.48,651 215.92,653.03 220.36,651.37 224.81,653.59 229.25,648.97 233.69,651.92 238.13,639.19 242.57,646.57 247.01,646.57 251.45,639.37 255.89,642.32 260.33,647.68 264.77,648.97 269.21,655.98 273.65,654.88 278.09,644.17 282.53,648.97 286.97,654.88 291.42,655.43 295.86,655.98 300.3,652.48 304.74,655.43 309.18,656.54 313.62,655.43 318.06,655.43 322.5,655.98" fill="none" stroke="#000" stroke-width="2.2" stroke-linejoin="round"/>
<path d="M60.5,629.66L63.5,635.06L57.5,635.06ZM64.94,576.86L67.94,582.26L61.94,582.26ZM69.38,551.39L72.38,556.79L66.38,556.79ZM73.82,557.11L76.82,562.51L70.82,562.51ZM78.26,561.35L81.26,566.75L75.26,566.75ZM82.7,559.69L85.7,565.09L79.7,565.09ZM87.14,575.38L90.14,580.78L84.14,580.78ZM91.58,603.26L94.58,608.66L88.58,608.66ZM96.03,591.63L99.03,597.03L93.03,597.03ZM100.47,591.63L103.47,597.03L97.47,597.03ZM104.91,599.2L107.91,604.6L101.91,604.6ZM109.35,614.89L112.35,620.29L106.35,620.29ZM113.79,604.18L116.79,609.58L110.79,609.58ZM118.23,605.66L121.23,611.06L115.23,611.06ZM122.67,644.42L125.67,649.82L119.67,649.82ZM127.11,628.55L130.11,633.95L124.11,633.95ZM131.55,609.35L134.55,614.75L128.55,614.75ZM135.99,622.83L138.99,628.23L132.99,628.23ZM140.43,637.41L143.43,642.81L137.43,642.81ZM144.87,636.3L147.87,641.7L141.87,641.7ZM149.31,638.33L152.31,643.73L146.31,643.73ZM153.75,640.36L156.75,645.76L150.75,645.76ZM158.19,636.86L161.19,642.26L155.19,642.26ZM162.64,638.89L165.64,644.29L159.64,644.29ZM167.08,640.92L170.08,646.32L164.08,646.32ZM171.52,645.72L174.52,651.12L168.52,651.12ZM175.96,645.72L178.96,651.12L172.96,651.12ZM180.4,649.22L183.4,654.62L177.4,654.62ZM184.84,641.47L187.84,646.87L181.84,646.87ZM189.28,637.59L192.28,642.99L186.28,642.99ZM193.72,633.72L196.72,639.12L190.72,639.12ZM198.16,642.58L201.16,647.98L195.16,647.98ZM202.6,647.01L205.6,652.41L199.6,652.41ZM207.04,648.67L210.04,654.07L204.04,654.07ZM211.48,648.3L214.48,653.7L208.48,653.7ZM215.92,650.33L218.92,655.73L212.92,655.73ZM220.36,648.67L223.36,654.07L217.36,654.07ZM224.81,650.88L227.81,656.29L221.81,656.29ZM229.25,646.27L232.25,651.67L226.25,651.67ZM233.69,649.22L236.69,654.62L230.69,654.62ZM238.13,636.49L241.13,641.89L235.13,641.89ZM242.57,643.87L245.57,649.27L239.57,649.27ZM247.01,643.87L250.01,649.27L244.01,649.27ZM251.45,636.67L254.45,642.07L248.45,642.07ZM255.89,639.62L258.89,645.02L252.89,645.02ZM260.33,644.98L263.33,650.38L257.33,650.38ZM264.77,646.27L267.77,651.67L261.77,651.67ZM269.21,653.28L272.21,658.68L266.21,658.68ZM273.65,652.18L276.65,657.58L270.65,657.58ZM278.09,641.47L281.09,646.87L275.09,646.87ZM282.53,646.27L285.53,651.67L279.53,651.67ZM286.97,652.18L289.97,657.58L283.97,657.58ZM291.42,652.73L294.42,658.13L288.42,658.13ZM295.86,653.28L298.86,658.68L292.86,658.68ZM300.3,649.78L303.3,655.18L297.3,655.18ZM304.74,652.73L307.74,658.13L301.74,658.13ZM309.18,653.84L312.18,659.24L306.18,659.24ZM313.62,652.73L316.62,658.13L310.62,658.13ZM318.06,652.73L321.06,658.13L315.06,658.13ZM322.5,653.28L325.5,658.68L319.5,658.68Z" fill="#000" stroke="#000" stroke-width="0.6" stroke-linejoin="miter"/>
<line x1="401.9" y1="33.7" x2="401.9" y2="141.7" stroke="#000" stroke-width="1.6"/>
<line x1="401.1" y1="140.8" x2="666" y2="140.8" stroke="#000" stroke-width="1.6"/>
<line x1="398.1" y1="140.8" x2="401.9" y2="140.8" stroke="#000" stroke-width="1.2"/>
<text x="392.2" y="143.9" font-size="9.6" text-anchor="end">0</text>
<line x1="398.1" y1="122.72" x2="401.9" y2="122.72" stroke="#000" stroke-width="1.2"/>
<text x="392.2" y="125.82" font-size="9.6" text-anchor="end">10</text>
<line x1="398.1" y1="104.64" x2="401.9" y2="104.64" stroke="#000" stroke-width="1.2"/>
<text x="392.2" y="107.74" font-size="9.6" text-anchor="end">20</text>
<line x1="398.1" y1="86.56" x2="401.9" y2="86.56" stroke="#000" stroke-width="1.2"/>
<text x="392.2" y="89.66" font-size="9.6" text-anchor="end">30</text>
<line x1="398.1" y1="68.48" x2="401.9" y2="68.48" stroke="#000" stroke-width="1.2"/>
<text x="392.2" y="71.58" font-size="9.6" text-anchor="end">40</text>
<line x1="398.1" y1="50.4" x2="401.9" y2="50.4" stroke="#000" stroke-width="1.2"/>
<text x="392.2" y="53.5" font-size="9.6" text-anchor="end">50</text>
<line x1="447.02" y1="140.8" x2="447.02" y2="144.3" stroke="#000" stroke-width="1.2"/>
<line x1="491.36" y1="140.8" x2="491.36" y2="144.3" stroke="#000" stroke-width="1.2"/>
<line x1="535.7" y1="140.8" x2="535.7" y2="144.3" stroke="#000" stroke-width="1.2"/>
<line x1="580.04" y1="140.8" x2="580.04" y2="144.3" stroke="#000" stroke-width="1.2"/>
<line x1="624.38" y1="140.8" x2="624.38" y2="144.3" stroke="#000" stroke-width="1.2"/>
<line x1="668.72" y1="140.8" x2="668.72" y2="144.3" stroke="#000" stroke-width="1.2"/>
<text x="404.9" y="158" font-size="9.6" text-anchor="middle">1</text>
<text x="443.6" y="158" font-size="9.6" text-anchor="middle">11</text>
<text x="482.7" y="158" font-size="9.6" text-anchor="middle">21</text>
<text x="522.8" y="158" font-size="9.6" text-anchor="middle">31</text>
<text x="564" y="158" font-size="9.6" text-anchor="middle">41</text>
<text x="603.8" y="158" font-size="9.6" text-anchor="middle">51</text>
<text x="658.6" y="158" font-size="9.6" text-anchor="middle">min</text>
<text transform="translate(357.2,93.7) rotate(-90)" x="0" y="0" font-size="10.4" text-anchor="middle" dominant-baseline="central" textLength="86.6" lengthAdjust="spacingAndGlyphs">FM 50-kHz calls/min</text>
<polyline points="403.9,116.21 408.33,85.66 412.77,104.46 417.2,110.97 421.64,118.02 426.07,123.44 430.5,127.6 434.94,131.94 439.37,130.86 443.81,135.2 448.24,132.84 452.67,130.86 457.11,138.09 461.54,139.9 465.97,133.93 470.41,133.93 474.84,138.09 479.28,139.35 483.71,135.38 488.14,136.46 492.58,135.92 497.01,136.46 501.45,138.27 505.88,139.9 510.31,139.9 514.75,139.9 519.18,139.9 523.62,139.9 528.05,139.9 532.48,139.9 536.92,139.9 541.35,139.9 545.78,139.9 550.22,139.9 554.65,139.9 559.09,139.9 563.52,139.9 567.95,139.9 572.39,139.9 576.82,139.9 581.26,139.9 585.69,139.9 590.12,139.9 594.56,139.9 598.99,139.9 603.43,139.9 607.86,139.9 612.29,139.9 616.73,133.93 621.16,135.92 625.59,139.9 630.03,139.9 634.46,139.9 638.9,139.9 643.33,139.9 647.76,139.9 652.2,139.9 656.63,139.9 661.07,139.9 665.5,139.9" fill="none" stroke="#000" stroke-width="1.5" stroke-linejoin="round"/>
<path d="M403.9,114.41L406.15,118.81L401.65,118.81ZM408.33,83.86L410.58,88.26L406.08,88.26ZM412.77,102.66L415.02,107.06L410.52,107.06ZM417.2,109.17L419.45,113.57L414.95,113.57ZM421.64,116.22L423.89,120.62L419.39,120.62ZM426.07,121.64L428.32,126.04L423.82,126.04ZM430.5,125.8L432.75,130.2L428.25,130.2ZM434.94,130.14L437.19,134.54L432.69,134.54ZM439.37,129.06L441.62,133.46L437.12,133.46ZM443.81,133.4L446.06,137.8L441.56,137.8ZM448.24,131.04L450.49,135.44L445.99,135.44ZM452.67,129.06L454.92,133.46L450.42,133.46ZM457.11,136.29L459.36,140.69L454.86,140.69ZM461.54,138.1L463.79,142.5L459.29,142.5ZM465.97,132.13L468.22,136.53L463.72,136.53ZM470.41,132.13L472.66,136.53L468.16,136.53ZM474.84,136.29L477.09,140.69L472.59,140.69ZM479.28,137.55L481.53,141.95L477.03,141.95ZM483.71,133.58L485.96,137.98L481.46,137.98ZM488.14,134.66L490.39,139.06L485.89,139.06ZM492.58,134.12L494.83,138.52L490.33,138.52ZM497.01,134.66L499.26,139.06L494.76,139.06ZM501.45,136.47L503.7,140.87L499.2,140.87ZM505.88,138.1L508.13,142.5L503.63,142.5ZM510.31,138.1L512.56,142.5L508.06,142.5ZM514.75,138.1L517,142.5L512.5,142.5ZM519.18,138.1L521.43,142.5L516.93,142.5ZM523.62,138.1L525.87,142.5L521.37,142.5ZM528.05,138.1L530.3,142.5L525.8,142.5ZM532.48,138.1L534.73,142.5L530.23,142.5ZM536.92,138.1L539.17,142.5L534.67,142.5ZM541.35,138.1L543.6,142.5L539.1,142.5ZM545.78,138.1L548.03,142.5L543.53,142.5ZM550.22,138.1L552.47,142.5L547.97,142.5ZM554.65,138.1L556.9,142.5L552.4,142.5ZM559.09,138.1L561.34,142.5L556.84,142.5ZM563.52,138.1L565.77,142.5L561.27,142.5ZM567.95,138.1L570.2,142.5L565.7,142.5ZM572.39,138.1L574.64,142.5L570.14,142.5ZM576.82,138.1L579.07,142.5L574.57,142.5ZM581.26,138.1L583.51,142.5L579.01,142.5ZM585.69,138.1L587.94,142.5L583.44,142.5ZM590.12,138.1L592.37,142.5L587.87,142.5ZM594.56,138.1L596.81,142.5L592.31,142.5ZM598.99,138.1L601.24,142.5L596.74,142.5ZM603.43,138.1L605.68,142.5L601.18,142.5ZM607.86,138.1L610.11,142.5L605.61,142.5ZM612.29,138.1L614.54,142.5L610.04,142.5ZM616.73,132.13L618.98,136.53L614.48,136.53ZM621.16,134.12L623.41,138.52L618.91,138.52ZM625.59,138.1L627.84,142.5L623.34,142.5ZM630.03,138.1L632.28,142.5L627.78,142.5ZM634.46,138.1L636.71,142.5L632.21,142.5ZM638.9,138.1L641.15,142.5L636.65,142.5ZM643.33,138.1L645.58,142.5L641.08,142.5ZM647.76,138.1L650.01,142.5L645.51,142.5ZM652.2,138.1L654.45,142.5L649.95,142.5ZM656.63,138.1L658.88,142.5L654.38,142.5ZM661.07,138.1L663.32,142.5L658.82,142.5ZM665.5,138.1L667.75,142.5L663.25,142.5Z" fill="#fff" stroke="#000" stroke-width="1.3" stroke-linejoin="miter"/>
<polyline points="403.9,116.21 408.33,104.46 412.77,113.86 417.2,116.93 421.64,126.88 426.07,130.86 430.5,132.84 434.94,134.65 439.37,139.35 443.81,139.35 448.24,138.09 452.67,138.09 457.11,140.26 461.54,140.8 465.97,140.26 470.41,139.35 474.84,139.9 479.28,138.99 483.71,138.63 488.14,138.99 492.58,138.45 497.01,139.35 501.45,139.72 505.88,140.26 510.31,140.26 514.75,140.26 519.18,140.26 523.62,140.26 528.05,140.26 532.48,140.26 536.92,140.26 541.35,140.26 545.78,140.26 550.22,140.26 554.65,140.26 559.09,140.26 563.52,140.26 567.95,140.26 572.39,140.26 576.82,140.26 581.26,140.26 585.69,140.26 590.12,140.26 594.56,140.26 598.99,140.26 603.43,140.26 607.86,140.26 612.29,140.26 616.73,138.09 621.16,138.99 625.59,140.26 630.03,140.26 634.46,140.26 638.9,140.26 643.33,140.26 647.76,140.26 652.2,140.26 656.63,140.26 661.07,140.26 665.5,140.26" fill="none" stroke="#000" stroke-width="2.1" stroke-linejoin="round"/>
<path d="M403.9,113.91L406.4,118.51L401.4,118.51ZM408.33,102.16L410.83,106.76L405.83,106.76ZM412.77,111.56L415.27,116.16L410.27,116.16ZM417.2,114.63L419.7,119.23L414.7,119.23ZM421.64,124.58L424.14,129.18L419.14,129.18ZM426.07,128.56L428.57,133.16L423.57,133.16ZM430.5,130.54L433,135.14L428,135.14ZM434.94,132.35L437.44,136.95L432.44,136.95ZM439.37,137.05L441.87,141.65L436.87,141.65ZM443.81,137.05L446.31,141.65L441.31,141.65ZM448.24,135.79L450.74,140.39L445.74,140.39ZM452.67,135.79L455.17,140.39L450.17,140.39ZM457.11,137.96L459.61,142.56L454.61,142.56ZM461.54,138.5L464.04,143.1L459.04,143.1ZM465.97,137.96L468.47,142.56L463.47,142.56ZM470.41,137.05L472.91,141.65L467.91,141.65ZM474.84,137.6L477.34,142.2L472.34,142.2ZM479.28,136.69L481.78,141.29L476.78,141.29ZM483.71,136.33L486.21,140.93L481.21,140.93ZM488.14,136.69L490.64,141.29L485.64,141.29ZM492.58,136.15L495.08,140.75L490.08,140.75ZM497.01,137.05L499.51,141.65L494.51,141.65ZM501.45,137.42L503.95,142.02L498.95,142.02ZM505.88,137.96L508.38,142.56L503.38,142.56ZM510.31,137.96L512.81,142.56L507.81,142.56ZM514.75,137.96L517.25,142.56L512.25,142.56ZM519.18,137.96L521.68,142.56L516.68,142.56ZM523.62,137.96L526.12,142.56L521.12,142.56ZM528.05,137.96L530.55,142.56L525.55,142.56ZM532.48,137.96L534.98,142.56L529.98,142.56ZM536.92,137.96L539.42,142.56L534.42,142.56ZM541.35,137.96L543.85,142.56L538.85,142.56ZM545.78,137.96L548.28,142.56L543.28,142.56ZM550.22,137.96L552.72,142.56L547.72,142.56ZM554.65,137.96L557.15,142.56L552.15,142.56ZM559.09,137.96L561.59,142.56L556.59,142.56ZM563.52,137.96L566.02,142.56L561.02,142.56ZM567.95,137.96L570.45,142.56L565.45,142.56ZM572.39,137.96L574.89,142.56L569.89,142.56ZM576.82,137.96L579.32,142.56L574.32,142.56ZM581.26,137.96L583.76,142.56L578.76,142.56ZM585.69,137.96L588.19,142.56L583.19,142.56ZM590.12,137.96L592.62,142.56L587.62,142.56ZM594.56,137.96L597.06,142.56L592.06,142.56ZM598.99,137.96L601.49,142.56L596.49,142.56ZM603.43,137.96L605.93,142.56L600.93,142.56ZM607.86,137.96L610.36,142.56L605.36,142.56ZM612.29,137.96L614.79,142.56L609.79,142.56ZM616.73,135.79L619.23,140.39L614.23,140.39ZM621.16,136.69L623.66,141.29L618.66,141.29ZM625.59,137.96L628.09,142.56L623.09,142.56ZM630.03,137.96L632.53,142.56L627.53,142.56ZM634.46,137.96L636.96,142.56L631.96,142.56ZM638.9,137.96L641.4,142.56L636.4,142.56ZM643.33,137.96L645.83,142.56L640.83,142.56ZM647.76,137.96L650.26,142.56L645.26,142.56ZM652.2,137.96L654.7,142.56L649.7,142.56ZM656.63,137.96L659.13,142.56L654.13,142.56ZM661.07,137.96L663.57,142.56L658.57,142.56ZM665.5,137.96L668,142.56L663,142.56Z" fill="#000" stroke="#000" stroke-width="0.6" stroke-linejoin="miter"/>
<line x1="401.7" y1="204" x2="401.7" y2="315.7" stroke="#000" stroke-width="1.6"/>
<line x1="400.9" y1="314.8" x2="666" y2="314.8" stroke="#000" stroke-width="1.6"/>
<line x1="397.9" y1="314.8" x2="401.7" y2="314.8" stroke="#000" stroke-width="1.2"/>
<text x="392" y="317.9" font-size="9.6" text-anchor="end">0</text>
<line x1="397.9" y1="296.08" x2="401.7" y2="296.08" stroke="#000" stroke-width="1.2"/>
<text x="392" y="299.18" font-size="9.6" text-anchor="end">10</text>
<line x1="397.9" y1="277.36" x2="401.7" y2="277.36" stroke="#000" stroke-width="1.2"/>
<text x="392" y="280.46" font-size="9.6" text-anchor="end">20</text>
<line x1="397.9" y1="258.64" x2="401.7" y2="258.64" stroke="#000" stroke-width="1.2"/>
<text x="392" y="261.74" font-size="9.6" text-anchor="end">30</text>
<line x1="397.9" y1="239.92" x2="401.7" y2="239.92" stroke="#000" stroke-width="1.2"/>
<text x="392" y="243.02" font-size="9.6" text-anchor="end">40</text>
<line x1="397.9" y1="221.2" x2="401.7" y2="221.2" stroke="#000" stroke-width="1.2"/>
<text x="392" y="224.3" font-size="9.6" text-anchor="end">50</text>
<line x1="445.78" y1="314.8" x2="445.78" y2="318.3" stroke="#000" stroke-width="1.2"/>
<line x1="489.96" y1="314.8" x2="489.96" y2="318.3" stroke="#000" stroke-width="1.2"/>
<line x1="534.15" y1="314.8" x2="534.15" y2="318.3" stroke="#000" stroke-width="1.2"/>
<line x1="578.34" y1="314.8" x2="578.34" y2="318.3" stroke="#000" stroke-width="1.2"/>
<line x1="622.52" y1="314.8" x2="622.52" y2="318.3" stroke="#000" stroke-width="1.2"/>
<line x1="666.71" y1="314.8" x2="666.71" y2="318.3" stroke="#000" stroke-width="1.2"/>
<text x="403.8" y="332" font-size="9.6" text-anchor="middle">1</text>
<text x="443" y="332" font-size="9.6" text-anchor="middle">11</text>
<text x="482.2" y="332" font-size="9.6" text-anchor="middle">21</text>
<text x="522.3" y="332" font-size="9.6" text-anchor="middle">31</text>
<text x="562.3" y="332" font-size="9.6" text-anchor="middle">41</text>
<text x="602.4" y="332" font-size="9.6" text-anchor="middle">51</text>
<text x="656.5" y="332" font-size="9.6" text-anchor="middle">min</text>
<text transform="translate(356.8,264.3) rotate(-90)" x="0" y="0" font-size="10.4" text-anchor="middle" dominant-baseline="central" textLength="87.4" lengthAdjust="spacingAndGlyphs">FM 50-kHz calls/min</text>
<polyline points="403.8,290.65 408.22,270.25 412.64,275.86 417.06,293.08 421.47,308.62 425.89,309.75 430.31,310.68 434.73,303.57 439.15,308.62 443.57,308.62 447.99,313.3 452.41,310.68 456.82,308.62 461.24,313.86 465.66,314.8 470.08,314.43 474.5,314.43 478.92,314.43 483.34,314.43 487.75,314.43 492.17,314.43 496.59,314.43 501.01,314.43 505.43,314.43 509.85,314.43 514.27,314.43 518.68,314.43 523.1,314.43 527.52,314.43 531.94,314.43 536.36,314.43 540.78,314.43 545.2,314.43 549.62,314.43 554.03,314.43 558.45,314.43 562.87,314.43 567.29,314.43 571.71,314.43 576.13,314.43 580.55,314.43 584.96,314.43 589.38,314.43 593.8,314.43 598.22,314.43 602.64,314.43 607.06,314.43 611.48,314.43 615.89,314.43 620.31,314.43 624.73,314.43 629.15,314.43 633.57,314.43 637.99,314.43 642.41,314.43 646.83,314.43 651.24,314.43 655.66,314.43 660.08,314.43 664.5,314.43" fill="none" stroke="#000" stroke-width="1.5" stroke-linejoin="round"/>
<path d="M403.8,288.85L406.05,293.25L401.55,293.25ZM408.22,268.45L410.47,272.85L405.97,272.85ZM412.64,274.06L414.89,278.46L410.39,278.46ZM417.06,291.28L419.31,295.68L414.81,295.68ZM421.47,306.82L423.72,311.22L419.22,311.22ZM425.89,307.95L428.14,312.35L423.64,312.35ZM430.31,308.88L432.56,313.28L428.06,313.28ZM434.73,301.77L436.98,306.17L432.48,306.17ZM439.15,306.82L441.4,311.22L436.9,311.22ZM443.57,306.82L445.82,311.22L441.32,311.22ZM447.99,311.5L450.24,315.9L445.74,315.9ZM452.41,308.88L454.66,313.28L450.16,313.28ZM456.82,306.82L459.07,311.22L454.57,311.22ZM461.24,312.06L463.49,316.46L458.99,316.46ZM465.66,313L467.91,317.4L463.41,317.4ZM470.08,312.63L472.33,317.03L467.83,317.03ZM474.5,312.63L476.75,317.03L472.25,317.03ZM478.92,312.63L481.17,317.03L476.67,317.03ZM483.34,312.63L485.59,317.03L481.09,317.03ZM487.75,312.63L490,317.03L485.5,317.03ZM492.17,312.63L494.42,317.03L489.92,317.03ZM496.59,312.63L498.84,317.03L494.34,317.03ZM501.01,312.63L503.26,317.03L498.76,317.03ZM505.43,312.63L507.68,317.03L503.18,317.03ZM509.85,312.63L512.1,317.03L507.6,317.03ZM514.27,312.63L516.52,317.03L512.02,317.03ZM518.68,312.63L520.93,317.03L516.43,317.03ZM523.1,312.63L525.35,317.03L520.85,317.03ZM527.52,312.63L529.77,317.03L525.27,317.03ZM531.94,312.63L534.19,317.03L529.69,317.03ZM536.36,312.63L538.61,317.03L534.11,317.03ZM540.78,312.63L543.03,317.03L538.53,317.03ZM545.2,312.63L547.45,317.03L542.95,317.03ZM549.62,312.63L551.87,317.03L547.37,317.03ZM554.03,312.63L556.28,317.03L551.78,317.03ZM558.45,312.63L560.7,317.03L556.2,317.03ZM562.87,312.63L565.12,317.03L560.62,317.03ZM567.29,312.63L569.54,317.03L565.04,317.03ZM571.71,312.63L573.96,317.03L569.46,317.03ZM576.13,312.63L578.38,317.03L573.88,317.03ZM580.55,312.63L582.8,317.03L578.3,317.03ZM584.96,312.63L587.21,317.03L582.71,317.03ZM589.38,312.63L591.63,317.03L587.13,317.03ZM593.8,312.63L596.05,317.03L591.55,317.03ZM598.22,312.63L600.47,317.03L595.97,317.03ZM602.64,312.63L604.89,317.03L600.39,317.03ZM607.06,312.63L609.31,317.03L604.81,317.03ZM611.48,312.63L613.73,317.03L609.23,317.03ZM615.89,312.63L618.14,317.03L613.64,317.03ZM620.31,312.63L622.56,317.03L618.06,317.03ZM624.73,312.63L626.98,317.03L622.48,317.03ZM629.15,312.63L631.4,317.03L626.9,317.03ZM633.57,312.63L635.82,317.03L631.32,317.03ZM637.99,312.63L640.24,317.03L635.74,317.03ZM642.41,312.63L644.66,317.03L640.16,317.03ZM646.83,312.63L649.08,317.03L644.58,317.03ZM651.24,312.63L653.49,317.03L648.99,317.03ZM655.66,312.63L657.91,317.03L653.41,317.03ZM660.08,312.63L662.33,317.03L657.83,317.03ZM664.5,312.63L666.75,317.03L662.25,317.03Z" fill="#fff" stroke="#000" stroke-width="1.3" stroke-linejoin="miter"/>
<polyline points="403.8,289.53 408.22,271.18 412.64,274.55 417.06,281.1 421.47,285.78 425.89,294.21 430.31,300.95 434.73,298.33 439.15,303.57 443.57,298.89 447.99,298.89 452.41,303.01 456.82,299.26 461.24,300.2 465.66,303.76 470.08,295.52 474.5,293.08 478.92,290.65 483.34,298.33 487.75,293.08 492.17,294.21 496.59,296.45 501.01,298.33 505.43,301.88 509.85,305.44 514.27,304.88 518.68,305.44 523.1,299.45 527.52,300.2 531.94,300.76 536.36,303.19 540.78,307.87 545.2,303.76 549.62,305.63 554.03,308.62 558.45,309.18 562.87,300.2 567.29,296.08 571.71,299.64 576.13,301.51 580.55,302.07 584.96,299.08 589.38,299.64 593.8,301.51 598.22,297.76 602.64,297.2 607.06,297.76 611.48,297.76 615.89,301.13 620.31,299.45 624.73,294.02 629.15,296.08 633.57,300.57 637.99,288.03 642.41,290.65 646.83,287.47 651.24,285.78 655.66,288.03 660.08,291.4 664.5,294.58" fill="none" stroke="#000" stroke-width="2.1" stroke-linejoin="round"/>
<path d="M403.8,287.23L406.3,291.83L401.3,291.83ZM408.22,268.88L410.72,273.48L405.72,273.48ZM412.64,272.25L415.14,276.85L410.14,276.85ZM417.06,278.8L419.56,283.4L414.56,283.4ZM421.47,283.48L423.97,288.08L418.97,288.08ZM425.89,291.91L428.39,296.51L423.39,296.51ZM430.31,298.65L432.81,303.25L427.81,303.25ZM434.73,296.03L437.23,300.63L432.23,300.63ZM439.15,301.27L441.65,305.87L436.65,305.87ZM443.57,296.59L446.07,301.19L441.07,301.19ZM447.99,296.59L450.49,301.19L445.49,301.19ZM452.41,300.71L454.91,305.31L449.91,305.31ZM456.82,296.96L459.32,301.56L454.32,301.56ZM461.24,297.9L463.74,302.5L458.74,302.5ZM465.66,301.46L468.16,306.06L463.16,306.06ZM470.08,293.22L472.58,297.82L467.58,297.82ZM474.5,290.78L477,295.38L472,295.38ZM478.92,288.35L481.42,292.95L476.42,292.95ZM483.34,296.03L485.84,300.63L480.84,300.63ZM487.75,290.78L490.25,295.38L485.25,295.38ZM492.17,291.91L494.67,296.51L489.67,296.51ZM496.59,294.15L499.09,298.75L494.09,298.75ZM501.01,296.03L503.51,300.63L498.51,300.63ZM505.43,299.58L507.93,304.18L502.93,304.18ZM509.85,303.14L512.35,307.74L507.35,307.74ZM514.27,302.58L516.77,307.18L511.77,307.18ZM518.68,303.14L521.18,307.74L516.18,307.74ZM523.1,297.15L525.6,301.75L520.6,301.75ZM527.52,297.9L530.02,302.5L525.02,302.5ZM531.94,298.46L534.44,303.06L529.44,303.06ZM536.36,300.89L538.86,305.49L533.86,305.49ZM540.78,305.57L543.28,310.17L538.28,310.17ZM545.2,301.46L547.7,306.06L542.7,306.06ZM549.62,303.33L552.12,307.93L547.12,307.93ZM554.03,306.32L556.53,310.92L551.53,310.92ZM558.45,306.88L560.95,311.48L555.95,311.48ZM562.87,297.9L565.37,302.5L560.37,302.5ZM567.29,293.78L569.79,298.38L564.79,298.38ZM571.71,297.34L574.21,301.94L569.21,301.94ZM576.13,299.21L578.63,303.81L573.63,303.81ZM580.55,299.77L583.05,304.37L578.05,304.37ZM584.96,296.78L587.46,301.38L582.46,301.38ZM589.38,297.34L591.88,301.94L586.88,301.94ZM593.8,299.21L596.3,303.81L591.3,303.81ZM598.22,295.46L600.72,300.06L595.72,300.06ZM602.64,294.9L605.14,299.5L600.14,299.5ZM607.06,295.46L609.56,300.06L604.56,300.06ZM611.48,295.46L613.98,300.06L608.98,300.06ZM615.89,298.83L618.39,303.43L613.39,303.43ZM620.31,297.15L622.81,301.75L617.81,301.75ZM624.73,291.72L627.23,296.32L622.23,296.32ZM629.15,293.78L631.65,298.38L626.65,298.38ZM633.57,298.27L636.07,302.87L631.07,302.87ZM637.99,285.73L640.49,290.33L635.49,290.33ZM642.41,288.35L644.91,292.95L639.91,292.95ZM646.83,285.17L649.33,289.77L644.33,289.77ZM651.24,283.48L653.74,288.08L648.74,288.08ZM655.66,285.73L658.16,290.33L653.16,290.33ZM660.08,289.1L662.58,293.7L657.58,293.7ZM664.5,292.28L667,296.88L662,296.88Z" fill="#000" stroke="#000" stroke-width="0.6" stroke-linejoin="miter"/>
<line x1="196.3" y1="19.5" x2="196.3" y2="77" stroke="#000" stroke-width="1.5"/>
<line x1="195.6" y1="76.3" x2="324.7" y2="76.3" stroke="#000" stroke-width="1.5"/>
<line x1="193.1" y1="76.3" x2="196.3" y2="76.3" stroke="#000" stroke-width="1.1"/>
<text x="192.1" y="79.3" font-size="8.4" text-anchor="end">0</text>
<line x1="193.1" y1="53.45" x2="196.3" y2="53.45" stroke="#000" stroke-width="1.1"/>
<text x="192.1" y="56.45" font-size="8.4" text-anchor="end">100</text>
<line x1="193.1" y1="30.6" x2="196.3" y2="30.6" stroke="#000" stroke-width="1.1"/>
<text x="192.1" y="33.6" font-size="8.4" text-anchor="end">200</text>
<line x1="218" y1="76.3" x2="218" y2="79.3" stroke="#000" stroke-width="1.1"/>
<line x1="239" y1="76.3" x2="239" y2="79.3" stroke="#000" stroke-width="1.1"/>
<line x1="260.15" y1="76.3" x2="260.15" y2="79.3" stroke="#000" stroke-width="1.1"/>
<line x1="281.5" y1="76.3" x2="281.5" y2="79.3" stroke="#000" stroke-width="1.1"/>
<line x1="302.85" y1="76.3" x2="302.85" y2="79.3" stroke="#000" stroke-width="1.1"/>
<line x1="324.4" y1="76.3" x2="324.4" y2="79.3" stroke="#000" stroke-width="1.1"/>
<text x="207" y="88.8" font-size="6.6" text-anchor="middle">1-10</text>
<text x="226.9" y="88.8" font-size="6.6" text-anchor="middle">11-20</text>
<text x="246.7" y="88.8" font-size="6.6" text-anchor="middle">21-30</text>
<text x="266.8" y="88.8" font-size="6.6" text-anchor="middle">31-40</text>
<text x="286.4" y="88.8" font-size="6.6" text-anchor="middle">41-50</text>
<text x="307.1" y="88.8" font-size="6.6" text-anchor="middle">51-60</text>
<text x="313.7" y="98.8" font-size="6.6" text-anchor="middle">min</text>
<text transform="translate(168.4,50.2) rotate(-90)" x="0" y="0" font-size="9.4" text-anchor="middle" dominant-baseline="central" textLength="52" lengthAdjust="spacingAndGlyphs">Calls/10 min</text>
<line x1="207.5" y1="35.17" x2="207.5" y2="23.74" stroke="#000" stroke-width="1.3"/>
<line x1="203.9" y1="23.74" x2="211.1" y2="23.74" stroke="#000" stroke-width="1.5"/>
<line x1="228.5" y1="55.73" x2="228.5" y2="51.62" stroke="#000" stroke-width="1.3"/>
<line x1="224.9" y1="51.62" x2="232.1" y2="51.62" stroke="#000" stroke-width="1.5"/>
<line x1="249.5" y1="52.31" x2="249.5" y2="46.59" stroke="#000" stroke-width="1.3"/>
<line x1="245.9" y1="46.59" x2="253.1" y2="46.59" stroke="#000" stroke-width="1.5"/>
<line x1="270.8" y1="42.02" x2="270.8" y2="31.74" stroke="#000" stroke-width="1.3"/>
<line x1="267.2" y1="31.74" x2="274.4" y2="31.74" stroke="#000" stroke-width="1.5"/>
<line x1="292.2" y1="54.59" x2="292.2" y2="48.42" stroke="#000" stroke-width="1.3"/>
<line x1="288.6" y1="48.42" x2="295.8" y2="48.42" stroke="#000" stroke-width="1.5"/>
<line x1="313.5" y1="62.13" x2="313.5" y2="54.59" stroke="#000" stroke-width="1.3"/>
<line x1="309.9" y1="54.59" x2="317.1" y2="54.59" stroke="#000" stroke-width="1.5"/>
<line x1="228.5" y1="69.44" x2="228.5" y2="66.02" stroke="#000" stroke-width="1.3"/>
<line x1="224.9" y1="66.02" x2="232.1" y2="66.02" stroke="#000" stroke-width="1.5"/>
<polyline points="207.5,43.17 228.5,69.44 249.5,74.47 270.8,75.16 292.2,75.84 313.5,76.07" fill="none" stroke="#000" stroke-width="2" stroke-linejoin="round"/>
<path d="M207.5,39.37L211.7,46.97L203.3,46.97ZM228.5,65.64L232.7,73.24L224.3,73.24ZM249.5,70.67L253.7,78.27L245.3,78.27ZM270.8,71.36L275,78.96L266.6,78.96ZM292.2,72.04L296.4,79.64L288,79.64ZM313.5,72.27L317.7,79.87L309.3,79.87Z" fill="#fff" stroke="#000" stroke-width="1.4" stroke-linejoin="miter"/>
<polyline points="207.5,35.17 228.5,55.73 249.5,52.31 270.8,42.02 292.2,54.59 313.5,62.13" fill="none" stroke="#000" stroke-width="2" stroke-linejoin="round"/>
<path d="M207.5,31.37L211.7,38.97L203.3,38.97ZM228.5,51.94L232.7,59.53L224.3,59.53ZM249.5,48.51L253.7,56.11L245.3,56.11ZM270.8,38.23L275,45.82L266.6,45.82ZM292.2,50.79L296.4,58.39L288,58.39ZM313.5,58.33L317.7,65.93L309.3,65.93Z" fill="#000" stroke="#000" stroke-width="0.6" stroke-linejoin="miter"/>
<text x="248.9" y="72.84" font-size="10.5" text-anchor="middle" fill="#555">**</text>
<text x="271.1" y="74.64" font-size="10.5" text-anchor="middle" fill="#555">***</text>
<text x="292.1" y="76.24" font-size="10.5" text-anchor="middle" fill="#555">***</text>
<text x="313" y="76.24" font-size="10.5" text-anchor="middle" fill="#555">***</text>
<text x="312.5" y="57.14" font-size="10.5" text-anchor="middle" fill="#555">**</text>
<line x1="241" y1="188" x2="241" y2="234.7" stroke="#000" stroke-width="1.5"/>
<line x1="240.3" y1="234" x2="323.4" y2="234" stroke="#000" stroke-width="1.5"/>
<line x1="237.8" y1="234" x2="241" y2="234" stroke="#000" stroke-width="1.1"/>
<text x="236.8" y="237" font-size="8.4" text-anchor="end">0</text>
<line x1="237.8" y1="215.6" x2="241" y2="215.6" stroke="#000" stroke-width="1.1"/>
<text x="236.8" y="218.6" font-size="8.4" text-anchor="end">200</text>
<line x1="237.8" y1="197.2" x2="241" y2="197.2" stroke="#000" stroke-width="1.1"/>
<text x="236.8" y="200.2" font-size="8.4" text-anchor="end">400</text>
<line x1="261.6" y1="234" x2="261.6" y2="237" stroke="#000" stroke-width="1.1"/>
<line x1="282.2" y1="234" x2="282.2" y2="237" stroke="#000" stroke-width="1.1"/>
<line x1="302.8" y1="234" x2="302.8" y2="237" stroke="#000" stroke-width="1.1"/>
<line x1="323.4" y1="234" x2="323.4" y2="237" stroke="#000" stroke-width="1.1"/>
<text x="250.7" y="247.8" font-size="6.6" text-anchor="middle">1-10</text>
<text x="270.7" y="247.8" font-size="6.6" text-anchor="middle">11-20</text>
<text x="290.2" y="247.8" font-size="6.6" text-anchor="middle">21-30</text>
<text x="308.9" y="247.8" font-size="6.6" text-anchor="middle">31-40</text>
<text x="313.6" y="257.3" font-size="6.6" text-anchor="middle">min</text>
<text transform="translate(211.7,212) rotate(-90)" x="0" y="0" font-size="9.4" text-anchor="middle" dominant-baseline="central" textLength="54" lengthAdjust="spacingAndGlyphs">Calls/10 min</text>
<line x1="251.3" y1="207.32" x2="251.3" y2="201.06" stroke="#000" stroke-width="1.3"/>
<line x1="247.7" y1="201.06" x2="254.9" y2="201.06" stroke="#000" stroke-width="1.5"/>
<line x1="271.9" y1="213.94" x2="271.9" y2="208.24" stroke="#000" stroke-width="1.3"/>
<line x1="268.3" y1="208.24" x2="275.5" y2="208.24" stroke="#000" stroke-width="1.5"/>
<line x1="292.5" y1="210.54" x2="292.5" y2="203.64" stroke="#000" stroke-width="1.3"/>
<line x1="288.9" y1="203.64" x2="296.1" y2="203.64" stroke="#000" stroke-width="1.5"/>
<line x1="313.1" y1="215.14" x2="313.1" y2="208.98" stroke="#000" stroke-width="1.3"/>
<line x1="309.5" y1="208.98" x2="316.7" y2="208.98" stroke="#000" stroke-width="1.5"/>
<line x1="251.3" y1="213.3" x2="251.3" y2="218.36" stroke="#000" stroke-width="1.3"/>
<line x1="247.7" y1="218.36" x2="254.9" y2="218.36" stroke="#000" stroke-width="1.5"/>
<line x1="271.9" y1="220.2" x2="271.9" y2="226.64" stroke="#000" stroke-width="1.3"/>
<line x1="268.3" y1="226.64" x2="275.5" y2="226.64" stroke="#000" stroke-width="1.5"/>
<line x1="292.5" y1="219.28" x2="292.5" y2="228.11" stroke="#000" stroke-width="1.3"/>
<line x1="288.9" y1="228.11" x2="296.1" y2="228.11" stroke="#000" stroke-width="1.5"/>
<line x1="313.1" y1="221.12" x2="313.1" y2="231.79" stroke="#000" stroke-width="1.3"/>
<line x1="309.5" y1="231.79" x2="316.7" y2="231.79" stroke="#000" stroke-width="1.5"/>
<polyline points="251.3,213.3 271.9,220.2 292.5,219.28 313.1,221.12" fill="none" stroke="#000" stroke-width="2" stroke-linejoin="round"/>
<path d="M251.3,209.5L255.5,217.1L247.1,217.1ZM271.9,216.4L276.1,224L267.7,224ZM292.5,215.48L296.7,223.08L288.3,223.08ZM313.1,217.32L317.3,224.92L308.9,224.92Z" fill="#fff" stroke="#000" stroke-width="1.4" stroke-linejoin="miter"/>
<polyline points="251.3,207.32 271.9,213.94 292.5,210.54 313.1,215.14" fill="none" stroke="#000" stroke-width="2" stroke-linejoin="round"/>
<path d="M251.3,203.52L255.5,211.12L247.1,211.12ZM271.9,210.14L276.1,217.74L267.7,217.74ZM292.5,206.74L296.7,214.34L288.3,214.34ZM313.1,211.34L317.3,218.94L308.9,218.94Z" fill="#000" stroke="#000" stroke-width="0.6" stroke-linejoin="miter"/>
<line x1="241" y1="360.6" x2="241" y2="409.7" stroke="#000" stroke-width="1.5"/>
<line x1="240.3" y1="409" x2="324.5" y2="409" stroke="#000" stroke-width="1.5"/>
<line x1="237.8" y1="409" x2="241" y2="409" stroke="#000" stroke-width="1.1"/>
<text x="236.8" y="412" font-size="8.4" text-anchor="end">0</text>
<line x1="237.8" y1="389.5" x2="241" y2="389.5" stroke="#000" stroke-width="1.1"/>
<text x="236.8" y="392.5" font-size="8.4" text-anchor="end">200</text>
<line x1="237.8" y1="370" x2="241" y2="370" stroke="#000" stroke-width="1.1"/>
<text x="236.8" y="373" font-size="8.4" text-anchor="end">400</text>
<line x1="262" y1="409" x2="262" y2="412" stroke="#000" stroke-width="1.1"/>
<line x1="283" y1="409" x2="283" y2="412" stroke="#000" stroke-width="1.1"/>
<line x1="304" y1="409" x2="304" y2="412" stroke="#000" stroke-width="1.1"/>
<line x1="324.5" y1="409" x2="324.5" y2="412" stroke="#000" stroke-width="1.1"/>
<text x="251.5" y="422" font-size="6.6" text-anchor="middle">1-10</text>
<text x="272.5" y="422" font-size="6.6" text-anchor="middle">11-20</text>
<text x="293.5" y="422" font-size="6.6" text-anchor="middle">21-30</text>
<text x="314" y="422" font-size="6.6" text-anchor="middle">31-40</text>
<text x="312.6" y="430.5" font-size="6.6" text-anchor="middle">min</text>
<text transform="translate(211.7,383) rotate(-90)" x="0" y="0" font-size="9.4" text-anchor="middle" dominant-baseline="central" textLength="54" lengthAdjust="spacingAndGlyphs">Calls/10 min</text>
<line x1="251.5" y1="370.98" x2="251.5" y2="379.75" stroke="#000" stroke-width="1.3"/>
<line x1="247.9" y1="379.75" x2="255.1" y2="379.75" stroke="#000" stroke-width="1.5"/>
<line x1="272.5" y1="383.65" x2="272.5" y2="387.06" stroke="#000" stroke-width="1.3"/>
<line x1="268.9" y1="387.06" x2="276.1" y2="387.06" stroke="#000" stroke-width="1.5"/>
<polyline points="251.5,370.98 272.5,383.65 293.5,400.23 314,403.93" fill="none" stroke="#000" stroke-width="2" stroke-linejoin="round"/>
<path d="M251.5,367.18L255.7,374.78L247.3,374.78ZM272.5,379.85L276.7,387.45L268.3,387.45ZM293.5,396.43L297.7,404.03L289.3,404.03ZM314,400.13L318.2,407.73L309.8,407.73Z" fill="#fff" stroke="#000" stroke-width="1.4" stroke-linejoin="miter"/>
<polyline points="251.5,368.54 272.5,370.49 293.5,369.22 314,377.02" fill="none" stroke="#000" stroke-width="2" stroke-linejoin="round"/>
<path d="M251.5,364.74L255.7,372.34L247.3,372.34ZM272.5,366.69L276.7,374.29L268.3,374.29ZM293.5,365.42L297.7,373.02L289.3,373.02ZM314,373.22L318.2,380.82L309.8,380.82Z" fill="#000" stroke="#000" stroke-width="0.6" stroke-linejoin="miter"/>
<text x="293" y="363.82" font-size="10.5" text-anchor="middle" fill="#555">#</text>
<text x="314.7" y="371.42" font-size="10.5" text-anchor="middle" fill="#555">##</text>
<text x="292" y="397.74" font-size="10.5" text-anchor="middle" fill="#555">***</text>
<text x="313.6" y="403.64" font-size="10.5" text-anchor="middle" fill="#555">***</text>
<line x1="537.3" y1="194.3" x2="537.3" y2="251" stroke="#000" stroke-width="1.5"/>
<line x1="536.6" y1="250.3" x2="665.8" y2="250.3" stroke="#000" stroke-width="1.5"/>
<line x1="534.1" y1="250.3" x2="537.3" y2="250.3" stroke="#000" stroke-width="1.1"/>
<text x="533.1" y="253.3" font-size="8.4" text-anchor="end">0</text>
<line x1="534.1" y1="227.7" x2="537.3" y2="227.7" stroke="#000" stroke-width="1.1"/>
<text x="533.1" y="230.7" font-size="8.4" text-anchor="end">100</text>
<line x1="534.1" y1="205.1" x2="537.3" y2="205.1" stroke="#000" stroke-width="1.1"/>
<text x="533.1" y="208.1" font-size="8.4" text-anchor="end">200</text>
<line x1="558.25" y1="250.3" x2="558.25" y2="253.3" stroke="#000" stroke-width="1.1"/>
<line x1="579.7" y1="250.3" x2="579.7" y2="253.3" stroke="#000" stroke-width="1.1"/>
<line x1="601.15" y1="250.3" x2="601.15" y2="253.3" stroke="#000" stroke-width="1.1"/>
<line x1="622.5" y1="250.3" x2="622.5" y2="253.3" stroke="#000" stroke-width="1.1"/>
<line x1="644.35" y1="250.3" x2="644.35" y2="253.3" stroke="#000" stroke-width="1.1"/>
<line x1="665.8" y1="250.3" x2="665.8" y2="253.3" stroke="#000" stroke-width="1.1"/>
<text x="547.6" y="263.3" font-size="6.6" text-anchor="middle">1-10</text>
<text x="568.9" y="263.3" font-size="6.6" text-anchor="middle">11-20</text>
<text x="590.5" y="263.3" font-size="6.6" text-anchor="middle">21-30</text>
<text x="611.8" y="263.3" font-size="6.6" text-anchor="middle">31-40</text>
<text x="633.2" y="263.3" font-size="6.6" text-anchor="middle">41-50</text>
<text x="655.5" y="263.3" font-size="6.6" text-anchor="middle">51-60</text>
<text x="655.5" y="272.8" font-size="6.6" text-anchor="middle">min</text>
<text transform="translate(510.7,222.5) rotate(-90)" x="0" y="0" font-size="9.4" text-anchor="middle" dominant-baseline="central" textLength="54" lengthAdjust="spacingAndGlyphs">Calls/10 min</text>
<line x1="547.6" y1="225.21" x2="547.6" y2="221.37" stroke="#000" stroke-width="1.3"/>
<line x1="544" y1="221.37" x2="551.2" y2="221.37" stroke="#000" stroke-width="1.5"/>
<line x1="568.9" y1="231.09" x2="568.9" y2="241.26" stroke="#000" stroke-width="1.3"/>
<line x1="565.3" y1="241.26" x2="572.5" y2="241.26" stroke="#000" stroke-width="1.5"/>
<line x1="590.5" y1="235.38" x2="590.5" y2="243.97" stroke="#000" stroke-width="1.3"/>
<line x1="586.9" y1="243.97" x2="594.1" y2="243.97" stroke="#000" stroke-width="1.5"/>
<line x1="611.8" y1="238.1" x2="611.8" y2="243.07" stroke="#000" stroke-width="1.3"/>
<line x1="608.2" y1="243.07" x2="615.4" y2="243.07" stroke="#000" stroke-width="1.5"/>
<line x1="633.2" y1="234.03" x2="633.2" y2="244.42" stroke="#000" stroke-width="1.3"/>
<line x1="629.6" y1="244.42" x2="636.8" y2="244.42" stroke="#000" stroke-width="1.5"/>
<line x1="655.5" y1="225.21" x2="655.5" y2="238.77" stroke="#000" stroke-width="1.3"/>
<line x1="651.9" y1="238.77" x2="659.1" y2="238.77" stroke="#000" stroke-width="1.5"/>
<line x1="547.6" y1="230.41" x2="547.6" y2="234.71" stroke="#000" stroke-width="1.3"/>
<line x1="544" y1="234.71" x2="551.2" y2="234.71" stroke="#000" stroke-width="1.5"/>
<polyline points="547.6,230.41 568.9,250.3 590.5,250.3 611.8,250.3 633.2,250.3 655.5,250.3" fill="none" stroke="#000" stroke-width="2" stroke-linejoin="round"/>
<path d="M547.6,226.61L551.8,234.21L543.4,234.21ZM568.9,246.5L573.1,254.1L564.7,254.1ZM590.5,246.5L594.7,254.1L586.3,254.1ZM611.8,246.5L616,254.1L607.6,254.1ZM633.2,246.5L637.4,254.1L629,254.1ZM655.5,246.5L659.7,254.1L651.3,254.1Z" fill="#fff" stroke="#000" stroke-width="1.4" stroke-linejoin="miter"/>
<polyline points="547.6,225.21 568.9,231.09 590.5,235.38 611.8,238.1 633.2,234.03 655.5,225.21" fill="none" stroke="#000" stroke-width="2" stroke-linejoin="round"/>
<path d="M547.6,221.41L551.8,229.01L543.4,229.01ZM568.9,227.29L573.1,234.89L564.7,234.89ZM590.5,231.58L594.7,239.18L586.3,239.18ZM611.8,234.3L616,241.9L607.6,241.9ZM633.2,230.23L637.4,237.83L629,237.83ZM655.5,221.41L659.7,229.01L651.3,229.01Z" fill="#000" stroke="#000" stroke-width="0.6" stroke-linejoin="miter"/>
<text x="444.9" y="53.4" font-size="9.7" textLength="167.8" lengthAdjust="spacingAndGlyphs" xml:space="preserve"><tspan>ANOVA results (for 10-min time blocks)</tspan></text>
<text x="444.9" y="66.2" font-size="9.7" textLength="149.4" lengthAdjust="spacingAndGlyphs" xml:space="preserve"><tspan>Group effect F</tspan><tspan dy="2.8">1,18</tspan><tspan dy="-2.8"> = 0.04, p = 0.84</tspan></text>
<text x="444.9" y="79" font-size="9.7" textLength="146.1" lengthAdjust="spacingAndGlyphs" xml:space="preserve"><tspan>Time effect F</tspan><tspan dy="2.8">5,90</tspan><tspan dy="-2.8"> = 17.4, p &lt; 10</tspan><tspan font-size="8.24" dy="-3.8">-3</tspan></text>
<text x="444.9" y="91.8" font-size="9.7" textLength="227.5" lengthAdjust="spacingAndGlyphs" xml:space="preserve"><tspan>Group × Time interaction effect: F</tspan><tspan dy="2.8">5,90</tspan><tspan dy="-2.8">= 0.28, p = 0.92</tspan></text>
<line x1="444.9" y1="55.8" x2="601.3" y2="55.8" stroke="#000" stroke-width="0.9"/>
<text x="107.8" y="553.1" font-size="9.7" textLength="167.4" lengthAdjust="spacingAndGlyphs" xml:space="preserve"><tspan>ANOVA results (for 10-min time blocks)</tspan></text>
<text x="107.8" y="565.9" font-size="9.7" textLength="148.4" lengthAdjust="spacingAndGlyphs" xml:space="preserve"><tspan>Group effect: F</tspan><tspan dy="2.8">1,18</tspan><tspan dy="-2.8">= 0.46, p = 0.51</tspan></text>
<text x="107.8" y="578.7" font-size="9.7" textLength="145.1" lengthAdjust="spacingAndGlyphs" xml:space="preserve"><tspan>Time effect: F</tspan><tspan dy="2.8">5,90</tspan><tspan dy="-2.8">= 57.1, p &lt; 10</tspan><tspan font-size="8.24" dy="-3.8">-3</tspan></text>
<text x="107.8" y="591.5" font-size="9.7" textLength="226.6" lengthAdjust="spacingAndGlyphs" xml:space="preserve"><tspan>Group × time interaction effect: F</tspan><tspan dy="2.8">5,90</tspan><tspan dy="-2.8"> = 0.31, p = 0.90</tspan></text>
<line x1="107.8" y1="555.4" x2="266.7" y2="555.4" stroke="#000" stroke-width="0.9"/>
<line x1="402.2" y1="376.2" x2="402.2" y2="487.3" stroke="#000" stroke-width="1.6"/>
<line x1="401.4" y1="486.5" x2="666.8" y2="486.5" stroke="#000" stroke-width="1.6"/>
<line x1="398.4" y1="486.5" x2="402.2" y2="486.5" stroke="#000" stroke-width="1.2"/>
<text x="392.4" y="489.6" font-size="9.6" text-anchor="end">0</text>
<line x1="398.4" y1="462.1" x2="402.2" y2="462.1" stroke="#000" stroke-width="1.2"/>
<text x="392.4" y="465.2" font-size="9.6" text-anchor="end">200</text>
<line x1="398.4" y1="437.7" x2="402.2" y2="437.7" stroke="#000" stroke-width="1.2"/>
<text x="392.4" y="440.8" font-size="9.6" text-anchor="end">400</text>
<line x1="398.4" y1="413.3" x2="402.2" y2="413.3" stroke="#000" stroke-width="1.2"/>
<text x="392.4" y="416.4" font-size="9.6" text-anchor="end">600</text>
<line x1="398.4" y1="388.9" x2="402.2" y2="388.9" stroke="#000" stroke-width="1.2"/>
<text x="392.4" y="392" font-size="9.6" text-anchor="end">800</text>
<line x1="435.26" y1="486.5" x2="435.26" y2="490" stroke="#000" stroke-width="1.2"/>
<line x1="468.32" y1="486.5" x2="468.32" y2="490" stroke="#000" stroke-width="1.2"/>
<line x1="501.38" y1="486.5" x2="501.38" y2="490" stroke="#000" stroke-width="1.2"/>
<line x1="534.44" y1="486.5" x2="534.44" y2="490" stroke="#000" stroke-width="1.2"/>
<line x1="567.5" y1="486.5" x2="567.5" y2="490" stroke="#000" stroke-width="1.2"/>
<line x1="600.56" y1="486.5" x2="600.56" y2="490" stroke="#000" stroke-width="1.2"/>
<line x1="633.62" y1="486.5" x2="633.62" y2="490" stroke="#000" stroke-width="1.2"/>
<line x1="666.68" y1="486.5" x2="666.68" y2="490" stroke="#000" stroke-width="1.2"/>
<text x="418.3" y="502.7" font-size="9.6" text-anchor="middle">1</text>
<text x="447.9" y="502.7" font-size="9.6" text-anchor="middle">3</text>
<text x="477.9" y="502.7" font-size="9.6" text-anchor="middle">5</text>
<text x="507.3" y="502.7" font-size="9.6" text-anchor="middle">7</text>
<text x="537.6" y="502.7" font-size="9.6" text-anchor="middle">12</text>
<text x="567.7" y="502.7" font-size="9.6" text-anchor="middle">14</text>
<text x="598" y="502.7" font-size="9.6" text-anchor="middle">16</text>
<text x="536.4" y="514.1" font-size="9.6" text-anchor="middle" textLength="81.5" lengthAdjust="spacingAndGlyphs">Extinction sessions</text>
<text transform="translate(357.8,437.6) rotate(-90)" x="0" y="0" font-size="9.6" text-anchor="middle" dominant-baseline="central" textLength="100" lengthAdjust="spacingAndGlyphs">FM 50-kHz calls/60 min</text>
<line x1="418.5" y1="390.85" x2="418.5" y2="378.65" stroke="#000" stroke-width="1.5"/>
<line x1="415.2" y1="378.65" x2="421.8" y2="378.65" stroke="#000" stroke-width="1.6"/>
<line x1="451.56" y1="464.91" x2="451.56" y2="459.66" stroke="#000" stroke-width="1.5"/>
<line x1="448.26" y1="459.66" x2="454.86" y2="459.66" stroke="#000" stroke-width="1.6"/>
<line x1="484.62" y1="454.9" x2="484.62" y2="450.02" stroke="#000" stroke-width="1.5"/>
<line x1="481.32" y1="450.02" x2="487.92" y2="450.02" stroke="#000" stroke-width="1.6"/>
<line x1="517.68" y1="466.98" x2="517.68" y2="462.95" stroke="#000" stroke-width="1.5"/>
<line x1="514.38" y1="462.95" x2="520.98" y2="462.95" stroke="#000" stroke-width="1.6"/>
<line x1="550.74" y1="470.64" x2="550.74" y2="466.49" stroke="#000" stroke-width="1.5"/>
<line x1="547.44" y1="466.49" x2="554.04" y2="466.49" stroke="#000" stroke-width="1.6"/>
<line x1="583.8" y1="476.5" x2="583.8" y2="474.91" stroke="#000" stroke-width="1.5"/>
<line x1="580.5" y1="474.91" x2="587.1" y2="474.91" stroke="#000" stroke-width="1.6"/>
<line x1="616.86" y1="471.62" x2="616.86" y2="467.47" stroke="#000" stroke-width="1.5"/>
<line x1="613.56" y1="467.47" x2="620.16" y2="467.47" stroke="#000" stroke-width="1.6"/>
<line x1="418.5" y1="406.47" x2="418.5" y2="431.36" stroke="#000" stroke-width="1.5"/>
<line x1="415.2" y1="431.36" x2="421.8" y2="431.36" stroke="#000" stroke-width="1.6"/>
<line x1="484.62" y1="459.66" x2="484.62" y2="469.79" stroke="#000" stroke-width="1.5"/>
<line x1="481.32" y1="469.79" x2="487.92" y2="469.79" stroke="#000" stroke-width="1.6"/>
<line x1="517.68" y1="468.44" x2="517.68" y2="472.47" stroke="#000" stroke-width="1.5"/>
<line x1="514.38" y1="472.47" x2="520.98" y2="472.47" stroke="#000" stroke-width="1.6"/>
<line x1="550.74" y1="477.72" x2="550.74" y2="481.62" stroke="#000" stroke-width="1.5"/>
<line x1="547.44" y1="481.62" x2="554.04" y2="481.62" stroke="#000" stroke-width="1.6"/>
<line x1="616.86" y1="473.57" x2="616.86" y2="476.74" stroke="#000" stroke-width="1.5"/>
<line x1="613.56" y1="476.74" x2="620.16" y2="476.74" stroke="#000" stroke-width="1.6"/>
<line x1="649.92" y1="415.74" x2="649.92" y2="389.5" stroke="#000" stroke-width="1.5"/>
<line x1="646.62" y1="389.5" x2="653.22" y2="389.5" stroke="#000" stroke-width="1.6"/>
<polyline points="418.5,406.47 451.56,469.42 484.62,459.66 517.68,468.44 550.74,477.72 583.8,477.47 616.86,473.57" fill="none" stroke="#000" stroke-width="2" stroke-linejoin="round"/>
<polyline points="418.5,390.85 451.56,464.91 484.62,454.9 517.68,466.98 550.74,470.64 583.8,476.5 616.86,471.62" fill="none" stroke="#000" stroke-width="2" stroke-linejoin="round"/>
<path d="M418.5,403.67L421.5,409.27L415.5,409.27ZM451.56,466.62L454.56,472.22L448.56,472.22ZM484.62,456.86L487.62,462.46L481.62,462.46ZM517.68,465.64L520.68,471.24L514.68,471.24ZM550.74,474.92L553.74,480.52L547.74,480.52ZM583.8,474.67L586.8,480.27L580.8,480.27ZM616.86,470.77L619.86,476.37L613.86,476.37ZM649.92,472.35L652.92,477.95L646.92,477.95Z" fill="#fff" stroke="#000" stroke-width="1.6" stroke-linejoin="miter"/>
<path d="M418.5,387.55L422.2,394.15L414.8,394.15ZM451.56,461.61L455.26,468.21L447.86,468.21ZM484.62,451.6L488.32,458.2L480.92,458.2ZM517.68,463.68L521.38,470.28L513.98,470.28ZM550.74,467.34L554.44,473.94L547.04,473.94ZM583.8,473.2L587.5,479.8L580.1,479.8ZM616.86,468.32L620.56,474.92L613.16,474.92ZM649.92,412.44L653.62,419.04L646.22,419.04Z" fill="#000" stroke="#000" stroke-width="0.6" stroke-linejoin="miter"/>
<ellipse cx="450.2" cy="452.1" rx="1.87" ry="1.7" fill="#000"/>
<ellipse cx="454.7" cy="452.1" rx="1.87" ry="1.7" fill="#000"/>
<ellipse cx="459.2" cy="452.1" rx="1.87" ry="1.7" fill="#000"/>
<ellipse cx="446.9" cy="477.1" rx="1.87" ry="1.7" fill="#000"/>
<ellipse cx="451.4" cy="477.1" rx="1.87" ry="1.7" fill="#000"/>
<ellipse cx="455.9" cy="477.1" rx="1.87" ry="1.7" fill="#000"/>
<ellipse cx="481.4" cy="443.9" rx="1.87" ry="1.7" fill="#000"/>
<ellipse cx="485.9" cy="443.9" rx="1.87" ry="1.7" fill="#000"/>
<ellipse cx="490.4" cy="443.9" rx="1.87" ry="1.7" fill="#000"/>
<ellipse cx="482.65" cy="474.2" rx="1.87" ry="1.7" fill="#000"/>
<ellipse cx="487.15" cy="474.2" rx="1.87" ry="1.7" fill="#000"/>
<ellipse cx="514.7" cy="455.3" rx="1.87" ry="1.7" fill="#000"/>
<ellipse cx="519.2" cy="455.3" rx="1.87" ry="1.7" fill="#000"/>
<ellipse cx="523.7" cy="455.3" rx="1.87" ry="1.7" fill="#000"/>
<ellipse cx="514" cy="478.5" rx="1.87" ry="1.7" fill="#000"/>
<ellipse cx="518.5" cy="478.5" rx="1.87" ry="1.7" fill="#000"/>
<ellipse cx="523" cy="478.5" rx="1.87" ry="1.7" fill="#000"/>
<ellipse cx="547.4" cy="460.1" rx="1.87" ry="1.7" fill="#000"/>
<ellipse cx="551.9" cy="460.1" rx="1.87" ry="1.7" fill="#000"/>
<ellipse cx="556.4" cy="460.1" rx="1.87" ry="1.7" fill="#000"/>
<ellipse cx="548.3" cy="483" rx="1.87" ry="1.7" fill="#000"/>
<ellipse cx="552.8" cy="483" rx="1.87" ry="1.7" fill="#000"/>
<ellipse cx="557.3" cy="483" rx="1.87" ry="1.7" fill="#000"/>
<ellipse cx="581" cy="466" rx="1.87" ry="1.7" fill="#000"/>
<ellipse cx="585.5" cy="466" rx="1.87" ry="1.7" fill="#000"/>
<ellipse cx="590" cy="466" rx="1.87" ry="1.7" fill="#000"/>
<ellipse cx="584" cy="483" rx="1.87" ry="1.7" fill="#000"/>
<ellipse cx="588.5" cy="483" rx="1.87" ry="1.7" fill="#000"/>
<ellipse cx="593" cy="483" rx="1.87" ry="1.7" fill="#000"/>
<ellipse cx="613" cy="460" rx="1.87" ry="1.7" fill="#000"/>
<ellipse cx="617.5" cy="460" rx="1.87" ry="1.7" fill="#000"/>
<ellipse cx="622" cy="460" rx="1.87" ry="1.7" fill="#000"/>
<ellipse cx="614" cy="482.4" rx="1.87" ry="1.7" fill="#000"/>
<ellipse cx="618.5" cy="482.4" rx="1.87" ry="1.7" fill="#000"/>
<ellipse cx="623" cy="482.4" rx="1.87" ry="1.7" fill="#000"/>
<text x="587.1" y="363.8" font-size="9.4" textLength="61.7" lengthAdjust="spacingAndGlyphs">Reinstatement</text>
<path d="M588,366.3 L650.3,366.3 L650.3,370" fill="none" stroke="#000" stroke-width="1.3"/>
<path d="M647.2,369.6 L653.4,369.6 L650.3,377 Z" fill="#000"/>
<text x="648.5" y="387.3" font-size="8.6" text-anchor="middle" fill="#222">+</text>
<line x1="401.3" y1="547.5" x2="401.3" y2="658.9" stroke="#000" stroke-width="1.6"/>
<line x1="400.5" y1="658.1" x2="667.2" y2="658.1" stroke="#000" stroke-width="1.6"/>
<line x1="666.5" y1="658.1" x2="666.5" y2="661.1" stroke="#000" stroke-width="1.4"/>
<line x1="397.5" y1="658.1" x2="401.3" y2="658.1" stroke="#000" stroke-width="1.2"/>
<text x="392" y="661.2" font-size="9.6" text-anchor="end">0</text>
<line x1="397.5" y1="642.07" x2="401.3" y2="642.07" stroke="#000" stroke-width="1.2"/>
<text x="392" y="645.17" font-size="9.6" text-anchor="end">10</text>
<line x1="397.5" y1="626.04" x2="401.3" y2="626.04" stroke="#000" stroke-width="1.2"/>
<text x="392" y="629.14" font-size="9.6" text-anchor="end">20</text>
<line x1="397.5" y1="610.01" x2="401.3" y2="610.01" stroke="#000" stroke-width="1.2"/>
<text x="392" y="613.11" font-size="9.6" text-anchor="end">30</text>
<line x1="397.5" y1="593.98" x2="401.3" y2="593.98" stroke="#000" stroke-width="1.2"/>
<text x="392" y="597.08" font-size="9.6" text-anchor="end">40</text>
<line x1="397.5" y1="577.95" x2="401.3" y2="577.95" stroke="#000" stroke-width="1.2"/>
<text x="392" y="581.05" font-size="9.6" text-anchor="end">50</text>
<line x1="397.5" y1="561.92" x2="401.3" y2="561.92" stroke="#000" stroke-width="1.2"/>
<text x="392" y="565.02" font-size="9.6" text-anchor="end">60</text>
<text x="409.9" y="675.2" font-size="9.6" text-anchor="middle">1</text>
<text x="439.4" y="675.2" font-size="9.6" text-anchor="middle">3</text>
<text x="469.2" y="675.2" font-size="9.6" text-anchor="middle">5</text>
<text x="497.8" y="675.2" font-size="9.6" text-anchor="middle">7</text>
<text x="527.9" y="675.2" font-size="9.6" text-anchor="middle">11</text>
<text x="559" y="675.2" font-size="9.6" text-anchor="middle">13</text>
<text x="590" y="675.2" font-size="9.6" text-anchor="middle">15</text>
<text x="620.8" y="675.2" font-size="9.6" text-anchor="middle">17</text>
<text x="536.4" y="686.8" font-size="9.6" text-anchor="middle" textLength="81.5" lengthAdjust="spacingAndGlyphs">Extinction sessions</text>
<text transform="translate(358.5,609.5) rotate(-90)" x="0" y="0" font-size="9.6" text-anchor="middle" dominant-baseline="central" textLength="98.5" lengthAdjust="spacingAndGlyphs">'Active' nose-pokes/2 h</text>
<line x1="409.4" y1="579.55" x2="409.4" y2="566.73" stroke="#000" stroke-width="1.5"/>
<line x1="406.1" y1="566.73" x2="412.7" y2="566.73" stroke="#000" stroke-width="1.6"/>
<line x1="425.95" y1="606" x2="425.95" y2="593.5" stroke="#000" stroke-width="1.5"/>
<line x1="422.65" y1="593.5" x2="429.25" y2="593.5" stroke="#000" stroke-width="1.6"/>
<line x1="442.5" y1="623.15" x2="442.5" y2="614.82" stroke="#000" stroke-width="1.5"/>
<line x1="439.2" y1="614.82" x2="445.8" y2="614.82" stroke="#000" stroke-width="1.6"/>
<line x1="459.05" y1="620.11" x2="459.05" y2="612.74" stroke="#000" stroke-width="1.5"/>
<line x1="455.75" y1="612.74" x2="462.35" y2="612.74" stroke="#000" stroke-width="1.6"/>
<line x1="475.6" y1="616.9" x2="475.6" y2="609.53" stroke="#000" stroke-width="1.5"/>
<line x1="472.3" y1="609.53" x2="478.9" y2="609.53" stroke="#000" stroke-width="1.6"/>
<line x1="492.15" y1="620.75" x2="492.15" y2="612.74" stroke="#000" stroke-width="1.5"/>
<line x1="488.85" y1="612.74" x2="495.45" y2="612.74" stroke="#000" stroke-width="1.6"/>
<line x1="508.7" y1="626.84" x2="508.7" y2="620.75" stroke="#000" stroke-width="1.5"/>
<line x1="505.4" y1="620.75" x2="512" y2="620.75" stroke="#000" stroke-width="1.6"/>
<line x1="525.25" y1="645.28" x2="525.25" y2="641.27" stroke="#000" stroke-width="1.5"/>
<line x1="521.95" y1="641.27" x2="528.55" y2="641.27" stroke="#000" stroke-width="1.6"/>
<line x1="541.8" y1="636.3" x2="541.8" y2="629.89" stroke="#000" stroke-width="1.5"/>
<line x1="538.5" y1="629.89" x2="545.1" y2="629.89" stroke="#000" stroke-width="1.6"/>
<line x1="558.35" y1="643.19" x2="558.35" y2="638.06" stroke="#000" stroke-width="1.5"/>
<line x1="555.05" y1="638.06" x2="561.65" y2="638.06" stroke="#000" stroke-width="1.6"/>
<line x1="574.9" y1="640.15" x2="574.9" y2="634.38" stroke="#000" stroke-width="1.5"/>
<line x1="571.6" y1="634.38" x2="578.2" y2="634.38" stroke="#000" stroke-width="1.6"/>
<line x1="591.45" y1="640.31" x2="591.45" y2="634.06" stroke="#000" stroke-width="1.5"/>
<line x1="588.15" y1="634.06" x2="594.75" y2="634.06" stroke="#000" stroke-width="1.6"/>
<line x1="608" y1="638.38" x2="608" y2="628.93" stroke="#000" stroke-width="1.5"/>
<line x1="604.7" y1="628.93" x2="611.3" y2="628.93" stroke="#000" stroke-width="1.6"/>
<line x1="624.55" y1="643.99" x2="624.55" y2="640.47" stroke="#000" stroke-width="1.5"/>
<line x1="621.25" y1="640.47" x2="627.85" y2="640.47" stroke="#000" stroke-width="1.6"/>
<line x1="641.1" y1="643.35" x2="641.1" y2="637.9" stroke="#000" stroke-width="1.5"/>
<line x1="637.8" y1="637.9" x2="644.4" y2="637.9" stroke="#000" stroke-width="1.6"/>
<line x1="525.25" y1="652.17" x2="525.25" y2="649.28" stroke="#000" stroke-width="1.5"/>
<line x1="521.95" y1="649.28" x2="528.55" y2="649.28" stroke="#000" stroke-width="1.6"/>
<line x1="591.45" y1="653.93" x2="591.45" y2="651.69" stroke="#000" stroke-width="1.5"/>
<line x1="588.15" y1="651.69" x2="594.75" y2="651.69" stroke="#000" stroke-width="1.6"/>
<line x1="608" y1="654.89" x2="608" y2="651.69" stroke="#000" stroke-width="1.5"/>
<line x1="604.7" y1="651.69" x2="611.3" y2="651.69" stroke="#000" stroke-width="1.6"/>
<line x1="657.65" y1="606.96" x2="657.65" y2="594.9" stroke="#000" stroke-width="1.5"/>
<line x1="654.35" y1="594.9" x2="660.95" y2="594.9" stroke="#000" stroke-width="1.6"/>
<polyline points="409.4,657.46 425.95,657.46 442.5,658.1 459.05,655.05 475.6,654.25 492.15,658.1 508.7,658.1 525.25,652.17 541.8,657.3 558.35,658.1 574.9,658.1 591.45,653.93 608,654.89 624.55,657.3 641.1,658.1" fill="none" stroke="#000" stroke-width="2" stroke-linejoin="round"/>
<polyline points="409.4,579.55 425.95,606 442.5,623.15 459.05,620.11 475.6,616.9 492.15,620.75 508.7,626.84 525.25,645.28 541.8,636.3 558.35,643.19 574.9,640.15 591.45,640.31 608,638.38 624.55,643.99 641.1,643.35" fill="none" stroke="#000" stroke-width="2" stroke-linejoin="round"/>
<path d="M409.4,654.46L412.6,660.46L406.2,660.46ZM425.95,654.46L429.15,660.46L422.75,660.46ZM442.5,655.1L445.7,661.1L439.3,661.1ZM459.05,652.05L462.25,658.05L455.85,658.05ZM475.6,651.25L478.8,657.25L472.4,657.25ZM492.15,655.1L495.35,661.1L488.95,661.1ZM508.7,655.1L511.9,661.1L505.5,661.1ZM525.25,649.17L528.45,655.17L522.05,655.17ZM541.8,654.3L545,660.3L538.6,660.3ZM558.35,655.1L561.55,661.1L555.15,661.1ZM574.9,655.1L578.1,661.1L571.7,661.1ZM591.45,650.93L594.65,656.93L588.25,656.93ZM608,651.89L611.2,657.89L604.8,657.89ZM624.55,654.3L627.75,660.3L621.35,660.3ZM641.1,655.1L644.3,661.1L637.9,661.1ZM657.65,655.1L660.85,661.1L654.45,661.1Z" fill="#fff" stroke="#000" stroke-width="1.5" stroke-linejoin="miter"/>
<path d="M409.4,576.15L413.2,582.95L405.6,582.95ZM425.95,602.6L429.75,609.4L422.15,609.4ZM442.5,619.75L446.3,626.55L438.7,626.55ZM459.05,616.71L462.85,623.51L455.25,623.51ZM475.6,613.5L479.4,620.3L471.8,620.3ZM492.15,617.35L495.95,624.15L488.35,624.15ZM508.7,623.44L512.5,630.24L504.9,630.24ZM525.25,641.88L529.05,648.68L521.45,648.68ZM541.8,632.9L545.6,639.7L538,639.7ZM558.35,639.79L562.15,646.59L554.55,646.59ZM574.9,636.75L578.7,643.55L571.1,643.55ZM591.45,636.91L595.25,643.71L587.65,643.71ZM608,634.98L611.8,641.78L604.2,641.78ZM624.55,640.59L628.35,647.39L620.75,647.39ZM641.1,639.95L644.9,646.75L637.3,646.75ZM657.65,603.56L661.45,610.36L653.85,610.36Z" fill="#000" stroke="#000" stroke-width="0.6" stroke-linejoin="miter"/>
<text x="409.8" y="650.2" font-size="10.5" text-anchor="middle" fill="#444">###</text>
<text x="425.9" y="653.3" font-size="10.5" text-anchor="middle" fill="#444">##</text>
<text x="441.5" y="653.3" font-size="10.5" text-anchor="middle" fill="#444">#</text>
<text x="458.7" y="650.6" font-size="10.5" text-anchor="middle" fill="#444">#</text>
<text x="474.6" y="648.6" font-size="10.5" text-anchor="middle" fill="#444">#</text>
<text x="490.9" y="652.5" font-size="10.5" text-anchor="middle" fill="#444">#</text>
<text x="658.5" y="650.7" font-size="10.5" text-anchor="middle" fill="#444">##</text>
<text x="426.2" y="595.8" font-size="11" text-anchor="middle" fill="#555">*</text>
<text x="442.9" y="616.4" font-size="11" text-anchor="middle" fill="#555">**</text>
<text x="492.2" y="614.6" font-size="11" text-anchor="middle" fill="#555">*</text>
<text x="508.6" y="621.6" font-size="11" text-anchor="middle" fill="#555">**</text>
<text x="526" y="642.9" font-size="11" text-anchor="middle" fill="#555">***</text>
<text x="539.4" y="632" font-size="11" text-anchor="middle" fill="#555">***</text>
<text x="557.5" y="640.2" font-size="11" text-anchor="middle" fill="#555">***</text>
<text x="572.6" y="635.6" font-size="11" text-anchor="middle" fill="#555">***</text>
<text x="590.2" y="636.2" font-size="11" text-anchor="middle" fill="#555">***</text>
<text x="608.2" y="630.1" font-size="11" text-anchor="middle" fill="#555">***</text>
<text x="626" y="642.2" font-size="11" text-anchor="middle" fill="#555">*##*</text>
<text x="657" y="591.9" font-size="8.6" text-anchor="middle" fill="#222">+</text>
<text x="595.2" y="566.2" font-size="9.4" textLength="61.8" lengthAdjust="spacingAndGlyphs">Reinstatement</text>
<path d="M595.5,568.7 L659.4,568.7 L659.4,573" fill="none" stroke="#000" stroke-width="1.3"/>
<path d="M656.3,572.8 L662.5,572.8 L659.4,580.7 Z" fill="#000"/>
</svg>
</body></html>
